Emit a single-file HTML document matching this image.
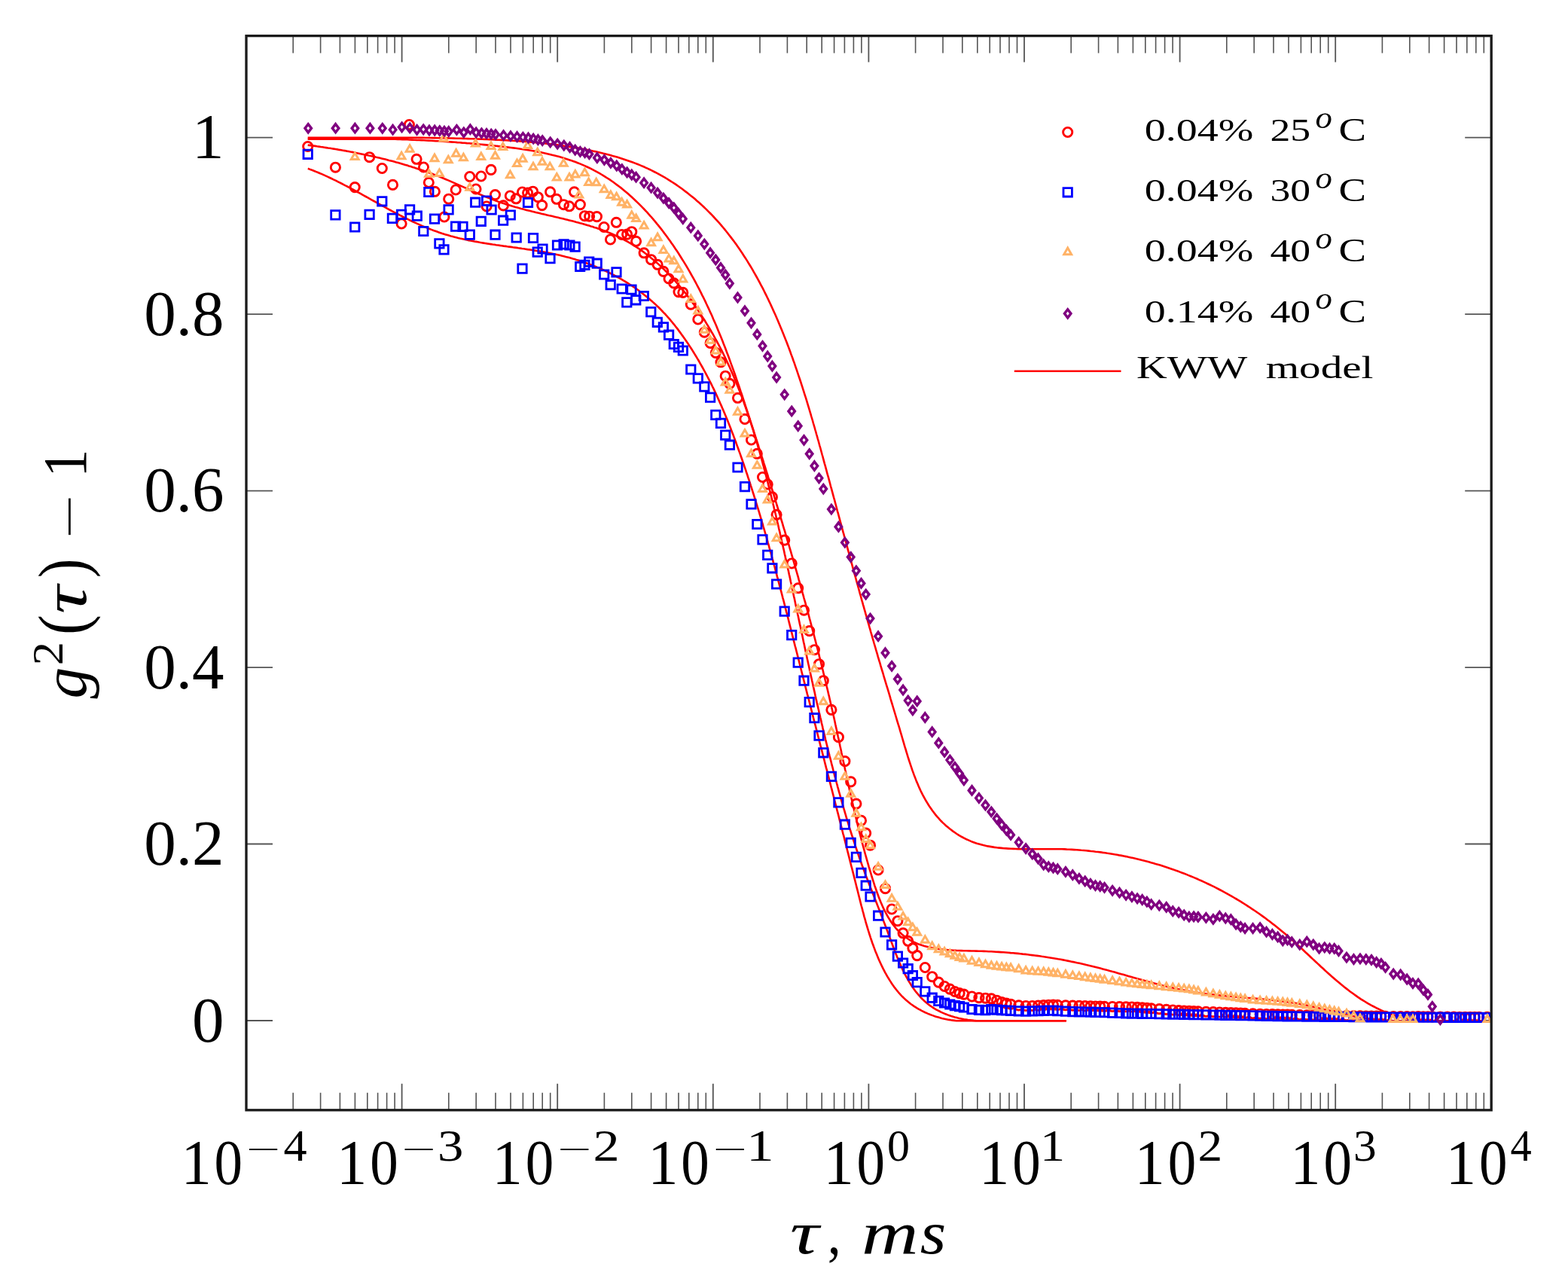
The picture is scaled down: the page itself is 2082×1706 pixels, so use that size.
<!DOCTYPE html><html><head><meta charset="utf-8"><style>html,body{margin:0;padding:0;background:#fff}svg{display:block;filter:blur(0.6px)}</style></head><body>
<svg width="2082" height="1706" viewBox="0 0 2082 1706">
<rect width="2082" height="1706" fill="#fff"/>
<path d="M327.0,1473.8v-35M327.0,47.6v35M533.6,1473.8v-35M533.6,47.6v35M740.2,1473.8v-35M740.2,47.6v35M946.8,1473.8v-35M946.8,47.6v35M1153.4,1473.8v-35M1153.4,47.6v35M1360.0,1473.8v-35M1360.0,47.6v35M1566.6,1473.8v-35M1566.6,47.6v35M1773.2,1473.8v-35M1773.2,47.6v35M1979.8,1473.8v-35M1979.8,47.6v35M327.0,1355.0h35M1980.2,1355.0h-35M327.0,1120.5h35M1980.2,1120.5h-35M327.0,886.1h35M1980.2,886.1h-35M327.0,651.6h35M1980.2,651.6h-35M327.0,417.2h35M1980.2,417.2h-35M327.0,182.7h35M1980.2,182.7h-35" stroke="#555" stroke-width="1.8" fill="none"/>
<path d="M389.2,1473.8v-23M389.2,47.6v23M425.6,1473.8v-23M425.6,47.6v23M451.4,1473.8v-23M451.4,47.6v23M471.4,1473.8v-23M471.4,47.6v23M487.8,1473.8v-23M487.8,47.6v23M501.6,1473.8v-23M501.6,47.6v23M513.6,1473.8v-23M513.6,47.6v23M524.1,1473.8v-23M524.1,47.6v23M595.8,1473.8v-23M595.8,47.6v23M632.2,1473.8v-23M632.2,47.6v23M658.0,1473.8v-23M658.0,47.6v23M678.0,1473.8v-23M678.0,47.6v23M694.4,1473.8v-23M694.4,47.6v23M708.2,1473.8v-23M708.2,47.6v23M720.2,1473.8v-23M720.2,47.6v23M730.7,1473.8v-23M730.7,47.6v23M802.4,1473.8v-23M802.4,47.6v23M838.8,1473.8v-23M838.8,47.6v23M864.6,1473.8v-23M864.6,47.6v23M884.6,1473.8v-23M884.6,47.6v23M901.0,1473.8v-23M901.0,47.6v23M914.8,1473.8v-23M914.8,47.6v23M926.8,1473.8v-23M926.8,47.6v23M937.3,1473.8v-23M937.3,47.6v23M1009.0,1473.8v-23M1009.0,47.6v23M1045.4,1473.8v-23M1045.4,47.6v23M1071.2,1473.8v-23M1071.2,47.6v23M1091.2,1473.8v-23M1091.2,47.6v23M1107.6,1473.8v-23M1107.6,47.6v23M1121.4,1473.8v-23M1121.4,47.6v23M1133.4,1473.8v-23M1133.4,47.6v23M1143.9,1473.8v-23M1143.9,47.6v23M1215.6,1473.8v-23M1215.6,47.6v23M1252.0,1473.8v-23M1252.0,47.6v23M1277.8,1473.8v-23M1277.8,47.6v23M1297.8,1473.8v-23M1297.8,47.6v23M1314.2,1473.8v-23M1314.2,47.6v23M1328.0,1473.8v-23M1328.0,47.6v23M1340.0,1473.8v-23M1340.0,47.6v23M1350.5,1473.8v-23M1350.5,47.6v23M1422.2,1473.8v-23M1422.2,47.6v23M1458.6,1473.8v-23M1458.6,47.6v23M1484.4,1473.8v-23M1484.4,47.6v23M1504.4,1473.8v-23M1504.4,47.6v23M1520.8,1473.8v-23M1520.8,47.6v23M1534.6,1473.8v-23M1534.6,47.6v23M1546.6,1473.8v-23M1546.6,47.6v23M1557.1,1473.8v-23M1557.1,47.6v23M1628.8,1473.8v-23M1628.8,47.6v23M1665.2,1473.8v-23M1665.2,47.6v23M1691.0,1473.8v-23M1691.0,47.6v23M1711.0,1473.8v-23M1711.0,47.6v23M1727.4,1473.8v-23M1727.4,47.6v23M1741.2,1473.8v-23M1741.2,47.6v23M1753.2,1473.8v-23M1753.2,47.6v23M1763.7,1473.8v-23M1763.7,47.6v23M1835.4,1473.8v-23M1835.4,47.6v23M1871.8,1473.8v-23M1871.8,47.6v23M1897.6,1473.8v-23M1897.6,47.6v23M1917.6,1473.8v-23M1917.6,47.6v23M1934.0,1473.8v-23M1934.0,47.6v23M1947.8,1473.8v-23M1947.8,47.6v23M1959.8,1473.8v-23M1959.8,47.6v23M1970.3,1473.8v-23M1970.3,47.6v23" stroke="#555" stroke-width="1.6" fill="none"/>
<clipPath id="cp"><rect x="327.0" y="47.6" width="1653.2" height="1426.2"/></clipPath>
<g clip-path="url(#cp)" fill="none">
<path d="M408.7,192.6 L411.1,192.9 L413.6,193.3 L416.1,193.6 L418.5,193.9 L421.0,194.3 L423.4,194.6 L425.9,195.0 L428.3,195.3 L430.8,195.7 L433.3,196.1 L435.7,196.5 L438.2,196.8 L440.7,197.2 L443.1,197.6 L445.6,198.0 L448.0,198.4 L450.5,198.9 L453.0,199.3 L455.4,199.7 L457.9,200.1 L460.4,200.6 L462.8,201.0 L465.3,201.5 L467.7,201.9 L470.2,202.4 L472.7,202.9 L475.1,203.4 L477.6,203.9 L480.0,204.4 L482.5,204.9 L484.9,205.4 L487.4,205.9 L489.8,206.5 L492.3,207.0 L494.7,207.5 L497.2,208.1 L499.6,208.7 L502.0,209.2 L504.5,209.8 L506.9,210.4 L509.3,211.0 L511.8,211.6 L514.2,212.2 L516.6,212.9 L519.0,213.5 L521.5,214.1 L523.9,214.8 L526.3,215.5 L528.7,216.1 L531.1,216.8 L533.5,217.5 L535.9,218.2 L538.3,218.9 L540.7,219.6 L543.1,220.4 L545.5,221.1 L547.9,221.9 L550.2,222.6 L552.6,223.4 L555.0,224.2 L557.4,225.0 L559.7,225.8 L562.1,226.6 L564.4,227.4 L566.8,228.2 L569.1,229.1 L571.4,229.9 L573.8,230.8 L576.1,231.7 L578.4,232.6 L580.8,233.5 L583.1,234.4 L585.4,235.3 L587.7,236.2 L590.0,237.2 L592.3,238.2 L594.5,239.1 L596.8,240.1 L599.1,241.1 L601.4,242.1 L603.6,243.1 L605.9,244.1 L608.2,245.1 L610.4,246.1 L612.7,247.1 L615.0,248.1 L617.2,249.1 L619.5,250.2 L621.8,251.2 L624.0,252.2 L626.3,253.2 L628.6,254.2 L630.8,255.2 L633.1,256.2 L635.4,257.2 L637.6,258.2 L639.9,259.1 L642.2,260.1 L644.5,261.1 L646.8,262.0 L649.1,262.9 L651.4,263.8 L653.7,264.7 L656.1,265.6 L658.4,266.5 L660.7,267.4 L663.1,268.2 L665.4,269.0 L667.8,269.8 L670.2,270.6 L672.5,271.4 L674.9,272.1 L677.3,272.8 L679.7,273.6 L682.1,274.3 L684.5,275.0 L687.0,275.6 L689.4,276.3 L691.8,277.0 L694.3,277.6 L696.7,278.3 L699.1,278.9 L701.6,279.5 L704.0,280.1 L706.5,280.7 L708.9,281.3 L711.4,281.9 L713.9,282.5 L716.3,283.1 L718.8,283.7 L721.2,284.2 L723.7,284.8 L726.2,285.4 L728.6,286.0 L731.1,286.5 L733.6,287.1 L736.0,287.7 L738.5,288.3 L741.0,288.8 L743.4,289.4 L745.9,290.0 L748.3,290.6 L750.8,291.2 L753.2,291.8 L755.7,292.4 L758.1,293.0 L760.5,293.6 L763.0,294.2 L765.4,294.9 L767.8,295.5 L770.2,296.2 L772.6,296.8 L775.0,297.5 L777.4,298.2 L779.8,298.9 L782.2,299.6 L784.6,300.4 L787.0,301.1 L789.3,301.9 L791.7,302.6 L794.0,303.4 L796.3,304.3 L798.7,305.1 L801.0,305.9 L803.3,306.8 L805.6,307.7 L807.8,308.6 L810.1,309.5 L812.4,310.5 L814.6,311.5 L816.9,312.5 L819.1,313.5 L821.3,314.5 L823.5,315.6 L825.7,316.7 L827.8,317.9 L830.0,319.0 L832.1,320.2 L834.2,321.4 L836.4,322.6 L838.5,323.9 L840.5,325.2 L842.6,326.5 L844.7,327.8 L846.7,329.2 L848.8,330.5 L850.8,332.0 L852.8,333.4 L854.8,334.8 L856.7,336.3 L858.7,337.8 L860.7,339.3 L862.6,340.8 L864.5,342.4 L866.4,343.9 L868.3,345.5 L870.2,347.2 L872.1,348.8 L873.9,350.4 L875.8,352.1 L877.6,353.8 L879.4,355.5 L881.2,357.2 L883.0,359.0 L884.8,360.7 L886.5,362.5 L888.3,364.3 L890.0,366.1 L891.7,367.9 L893.4,369.7 L895.1,371.6 L896.8,373.4 L898.5,375.3 L900.1,377.2 L901.8,379.1 L903.4,381.0 L905.0,383.0 L906.6,384.9 L908.2,386.9 L909.8,388.8 L911.3,390.8 L912.9,392.8 L914.4,394.8 L915.9,396.8 L917.5,398.8 L919.0,400.9 L920.4,402.9 L921.9,404.9 L923.4,407.0 L924.8,409.1 L926.2,411.1 L927.7,413.2 L929.1,415.3 L930.5,417.4 L931.8,419.5 L933.2,421.6 L934.6,423.7 L935.9,425.8 L937.2,428.0 L938.5,430.1 L939.8,432.2 L941.1,434.4 L942.4,436.5 L943.7,438.7 L944.9,440.8 L946.2,443.0 L947.4,445.2 L948.6,447.3 L949.8,449.5 L951.0,451.7 L952.2,453.9 L953.4,456.1 L954.6,458.3 L955.7,460.5 L956.8,462.7 L958.0,464.9 L959.1,467.1 L960.2,469.4 L961.3,471.6 L962.4,473.8 L963.5,476.1 L964.5,478.3 L965.6,480.6 L966.6,482.8 L967.7,485.1 L968.7,487.3 L969.7,489.6 L970.7,491.9 L971.7,494.2 L972.7,496.4 L973.7,498.7 L974.7,501.0 L975.6,503.3 L976.6,505.6 L977.5,507.9 L978.5,510.2 L979.4,512.5 L980.3,514.8 L981.2,517.1 L982.1,519.4 L983.0,521.8 L983.9,524.1 L984.8,526.4 L985.6,528.8 L986.5,531.1 L987.4,533.4 L988.2,535.8 L989.0,538.1 L989.9,540.5 L990.7,542.8 L991.5,545.2 L992.3,547.5 L993.1,549.9 L993.9,552.2 L994.7,554.6 L995.5,557.0 L996.3,559.3 L997.0,561.7 L997.8,564.1 L998.6,566.5 L999.3,568.8 L1000.1,571.2 L1000.8,573.6 L1001.5,576.0 L1002.3,578.4 L1003.0,580.8 L1003.7,583.2 L1004.4,585.6 L1005.1,588.0 L1005.8,590.4 L1006.5,592.8 L1007.2,595.2 L1007.9,597.6 L1008.6,600.0 L1009.3,602.4 L1009.9,604.8 L1010.6,607.2 L1011.3,609.6 L1011.9,612.0 L1012.6,614.4 L1013.2,616.8 L1013.9,619.2 L1014.5,621.7 L1015.2,624.1 L1015.8,626.5 L1016.4,628.9 L1017.1,631.3 L1017.7,633.8 L1018.3,636.2 L1018.9,638.6 L1019.6,641.0 L1020.2,643.4 L1020.8,645.9 L1021.4,648.3 L1022.0,650.7 L1022.6,653.1 L1023.2,655.6 L1023.8,658.0 L1024.4,660.4 L1025.0,662.8 L1025.6,665.3 L1026.2,667.7 L1026.8,670.1 L1027.4,672.5 L1027.9,675.0 L1028.5,677.4 L1029.1,679.8 L1029.7,682.3 L1030.3,684.7 L1030.8,687.1 L1031.4,689.5 L1032.0,692.0 L1032.5,694.4 L1033.1,696.8 L1033.7,699.2 L1034.2,701.7 L1034.8,704.1 L1035.4,706.5 L1035.9,709.0 L1036.5,711.4 L1037.0,713.8 L1037.6,716.3 L1038.1,718.7 L1038.7,721.1 L1039.2,723.6 L1039.8,726.0 L1040.3,728.4 L1040.9,730.8 L1041.4,733.3 L1041.9,735.7 L1042.5,738.1 L1043.0,740.6 L1043.6,743.0 L1044.1,745.4 L1044.6,747.9 L1045.2,750.3 L1045.7,752.7 L1046.2,755.2 L1046.8,757.6 L1047.3,760.0 L1047.8,762.5 L1048.4,764.9 L1048.9,767.3 L1049.4,769.8 L1049.9,772.2 L1050.5,774.6 L1051.0,777.1 L1051.5,779.5 L1052.0,782.0 L1052.6,784.4 L1053.1,786.8 L1053.6,789.3 L1054.1,791.7 L1054.7,794.1 L1055.2,796.6 L1055.7,799.0 L1056.2,801.4 L1056.7,803.9 L1057.3,806.3 L1057.8,808.7 L1058.3,811.2 L1058.8,813.6 L1059.3,816.0 L1059.9,818.5 L1060.4,820.9 L1060.9,823.4 L1061.4,825.8 L1061.9,828.2 L1062.5,830.7 L1063.0,833.1 L1063.5,835.5 L1064.0,838.0 L1064.5,840.4 L1065.1,842.8 L1065.6,845.3 L1066.1,847.7 L1066.6,850.2 L1067.1,852.6 L1067.7,855.0 L1068.2,857.5 L1068.7,859.9 L1069.2,862.3 L1069.7,864.8 L1070.3,867.2 L1070.8,869.6 L1071.3,872.1 L1071.8,874.5 L1072.4,877.0 L1072.9,879.4 L1073.4,881.8 L1074.0,884.3 L1074.5,886.7 L1075.0,889.1 L1075.5,891.6 L1076.1,894.0 L1076.6,896.4 L1077.1,898.9 L1077.7,901.3 L1078.2,903.8 L1078.8,906.2 L1079.3,908.6 L1079.8,911.1 L1080.4,913.5 L1080.9,915.9 L1081.5,918.4 L1082.0,920.8 L1082.5,923.2 L1083.1,925.7 L1083.6,928.1 L1084.2,930.5 L1084.7,933.0 L1085.3,935.4 L1085.9,937.9 L1086.4,940.3 L1087.0,942.7 L1087.5,945.2 L1088.1,947.6 L1088.7,950.0 L1089.2,952.5 L1089.8,954.9 L1090.4,957.3 L1090.9,959.8 L1091.5,962.2 L1092.1,964.6 L1092.6,967.1 L1093.2,969.5 L1093.8,971.9 L1094.4,974.4 L1095.0,976.8 L1095.6,979.2 L1096.1,981.7 L1096.7,984.1 L1097.3,986.5 L1097.9,989.0 L1098.5,991.4 L1099.1,993.8 L1099.7,996.2 L1100.3,998.7 L1100.9,1001.1 L1101.5,1003.5 L1102.2,1006.0 L1102.8,1008.4 L1103.4,1010.8 L1104.0,1013.3 L1104.6,1015.7 L1105.3,1018.1 L1105.9,1020.5 L1106.5,1023.0 L1107.2,1025.4 L1107.8,1027.8 L1108.4,1030.3 L1109.1,1032.7 L1109.7,1035.1 L1110.4,1037.5 L1111.0,1040.0 L1111.7,1042.4 L1112.3,1044.8 L1113.0,1047.2 L1113.6,1049.7 L1114.3,1052.1 L1115.0,1054.5 L1115.7,1056.9 L1116.3,1059.3 L1117.0,1061.7 L1117.7,1064.2 L1118.4,1066.6 L1119.1,1069.0 L1119.8,1071.4 L1120.5,1073.8 L1121.2,1076.2 L1121.9,1078.6 L1122.6,1081.0 L1123.3,1083.4 L1124.0,1085.8 L1124.7,1088.2 L1125.5,1090.6 L1126.2,1093.0 L1126.9,1095.4 L1127.6,1097.8 L1128.4,1100.1 L1129.1,1102.5 L1129.9,1104.9 L1130.6,1107.3 L1131.4,1109.6 L1132.2,1112.0 L1132.9,1114.4 L1133.7,1116.7 L1134.5,1119.1 L1135.2,1121.5 L1136.0,1123.8 L1136.8,1126.2 L1137.6,1128.5 L1138.4,1130.8 L1139.2,1133.2 L1140.0,1135.5 L1140.8,1137.8 L1141.6,1140.2 L1142.5,1142.5 L1143.3,1144.8 L1144.1,1147.1 L1144.9,1149.4 L1145.8,1151.8 L1146.6,1154.1 L1147.5,1156.4 L1148.3,1158.7 L1149.2,1160.9 L1150.0,1163.2 L1150.9,1165.5 L1151.8,1167.8 L1152.7,1170.1 L1153.5,1172.4 L1154.4,1174.7 L1155.3,1176.9 L1156.2,1179.2 L1157.1,1181.5 L1158.0,1183.8 L1158.9,1186.1 L1159.8,1188.4 L1160.7,1190.6 L1161.6,1192.9 L1162.5,1195.2 L1163.4,1197.5 L1164.3,1199.8 L1165.2,1202.1 L1166.1,1204.4 L1167.0,1206.7 L1167.9,1209.0 L1168.8,1211.4 L1169.7,1213.7 L1170.6,1216.0 L1171.5,1218.4 L1172.4,1220.7 L1173.3,1223.1 L1174.2,1225.4 L1175.1,1227.8 L1176.0,1230.1 L1176.9,1232.5 L1177.8,1234.9 L1178.7,1237.3 L1179.6,1239.7 L1180.5,1242.1 L1181.4,1244.6 L1182.3,1247.0 L1183.2,1249.4 L1184.1,1251.9 L1185.0,1254.3 L1185.9,1256.7 L1186.8,1259.1 L1187.7,1261.6 L1188.7,1264.0 L1189.6,1266.4 L1190.6,1268.8 L1191.5,1271.2 L1192.5,1273.6 L1193.5,1275.9 L1194.5,1278.3 L1195.6,1280.7 L1196.6,1283.0 L1197.7,1285.3 L1198.7,1287.6 L1199.8,1289.9 L1201.0,1292.1 L1202.1,1294.4 L1203.3,1296.6 L1204.5,1298.7 L1205.7,1300.9 L1206.9,1303.0 L1208.2,1305.1 L1209.5,1307.2 L1210.8,1309.2 L1212.2,1311.3 L1213.6,1313.2 L1215.0,1315.2 L1216.5,1317.1 L1218.0,1318.9 L1219.5,1320.7 L1221.1,1322.5 L1222.7,1324.3 L1224.3,1326.0 L1226.0,1327.6 L1227.7,1329.2 L1229.5,1330.8 L1231.3,1332.3 L1233.1,1333.7 L1235.0,1335.1 L1237.0,1336.5 L1239.0,1337.8 L1241.0,1339.1 L1243.0,1340.3 L1245.1,1341.4 L1247.3,1342.5 L1249.4,1343.6 L1251.6,1344.6 L1253.9,1345.6 L1256.1,1346.5 L1258.4,1347.4 L1260.7,1348.2 L1263.1,1349.0 L1265.5,1349.7 L1267.9,1350.4 L1270.3,1351.0 L1272.7,1351.7 L1275.2,1352.2 L1277.7,1352.7 L1280.2,1353.2 L1282.7,1353.6 L1285.2,1354.0 L1287.8,1354.3 L1290.3,1354.6 L1292.9,1354.9 L1295.5,1355.1 L1298.1,1355.2 L1300.7,1355.2 L1303.3,1355.2 L1305.9,1355.2 L1308.5,1355.2 L1311.1,1355.2 L1313.7,1355.2 L1316.4,1355.2 L1319.0,1355.2 L1321.6,1355.2 L1324.3,1355.2 L1326.9,1355.2 L1329.5,1355.2 L1332.1,1355.2 L1334.8,1355.2 L1337.4,1355.2 L1340.0,1355.2 L1342.6,1355.2 L1345.3,1355.2 L1347.9,1355.2 L1350.5,1355.2 L1353.1,1355.2 L1355.7,1355.2 L1358.2,1355.2 L1360.8,1355.2 L1363.4,1355.2 L1365.9,1355.2 L1368.5,1355.2 L1371.0,1355.2 L1373.5,1355.2 L1376.0,1355.2 L1378.5,1355.2 L1381.0,1355.2 L1383.5,1355.2 L1385.9,1355.2 L1388.3,1355.2 L1390.7,1355.2 L1393.1,1355.2 L1395.5,1355.2 L1397.9,1355.2 L1400.2,1355.2 L1402.5,1355.2 L1404.8,1355.2 L1407.1,1355.2 L1409.3,1355.2 L1411.6,1355.2 L1413.8,1355.2 L1415.9,1355.2" stroke="#ff0000" stroke-width="2.6"/>
<path d="M408.8,223.8 L411.0,224.6 L413.3,225.4 L415.5,226.3 L417.8,227.2 L420.0,228.1 L422.3,229.0 L424.5,230.0 L426.8,230.9 L429.0,231.9 L431.2,232.9 L433.4,233.9 L435.6,234.9 L437.9,236.0 L440.1,237.0 L442.3,238.1 L444.5,239.1 L446.7,240.2 L448.8,241.3 L451.0,242.4 L453.2,243.5 L455.4,244.6 L457.6,245.8 L459.8,246.9 L461.9,248.0 L464.1,249.2 L466.3,250.4 L468.4,251.5 L470.6,252.7 L472.8,253.9 L474.9,255.1 L477.1,256.2 L479.3,257.4 L481.4,258.6 L483.6,259.8 L485.7,261.0 L487.9,262.2 L490.1,263.4 L492.2,264.6 L494.4,265.8 L496.5,267.0 L498.7,268.2 L500.9,269.4 L503.0,270.6 L505.2,271.8 L507.3,273.0 L509.5,274.2 L511.7,275.4 L513.8,276.6 L516.0,277.8 L518.2,279.0 L520.3,280.1 L522.5,281.3 L524.7,282.4 L526.9,283.6 L529.0,284.7 L531.2,285.9 L533.4,287.0 L535.6,288.1 L537.8,289.2 L540.0,290.3 L542.2,291.4 L544.4,292.5 L546.6,293.5 L548.8,294.6 L551.0,295.6 L553.3,296.6 L555.5,297.6 L557.7,298.6 L559.9,299.6 L562.2,300.6 L564.4,301.5 L566.7,302.4 L568.9,303.3 L571.2,304.2 L573.5,305.1 L575.7,306.0 L578.0,306.8 L580.3,307.6 L582.6,308.4 L584.9,309.2 L587.2,310.0 L589.5,310.7 L591.8,311.4 L594.2,312.1 L596.5,312.8 L598.8,313.5 L601.2,314.1 L603.5,314.7 L605.9,315.3 L608.2,315.9 L610.6,316.5 L613.0,317.0 L615.4,317.5 L617.7,318.1 L620.1,318.6 L622.5,319.1 L624.9,319.5 L627.3,320.0 L629.7,320.5 L632.1,320.9 L634.5,321.3 L637.0,321.8 L639.4,322.2 L641.8,322.6 L644.2,323.0 L646.7,323.4 L649.1,323.7 L651.5,324.1 L654.0,324.5 L656.4,324.8 L658.8,325.2 L661.3,325.5 L663.7,325.9 L666.2,326.2 L668.6,326.6 L671.1,326.9 L673.5,327.3 L676.0,327.6 L678.4,327.9 L680.9,328.3 L683.3,328.6 L685.8,328.9 L688.2,329.3 L690.7,329.6 L693.1,330.0 L695.6,330.3 L698.0,330.7 L700.4,331.1 L702.9,331.4 L705.3,331.8 L707.8,332.2 L710.2,332.6 L712.6,333.0 L715.1,333.4 L717.5,333.8 L719.9,334.2 L722.4,334.6 L724.8,335.1 L727.2,335.5 L729.6,336.0 L732.0,336.5 L734.4,337.0 L736.9,337.5 L739.3,338.0 L741.7,338.5 L744.0,339.1 L746.4,339.7 L748.8,340.3 L751.2,340.9 L753.6,341.5 L755.9,342.1 L758.3,342.8 L760.7,343.5 L763.0,344.1 L765.4,344.9 L767.7,345.6 L770.0,346.3 L772.4,347.1 L774.7,347.9 L777.0,348.7 L779.3,349.5 L781.6,350.4 L783.9,351.2 L786.2,352.1 L788.4,353.0 L790.7,353.9 L793.0,354.9 L795.2,355.8 L797.4,356.8 L799.7,357.8 L801.9,358.8 L804.1,359.8 L806.3,360.9 L808.5,361.9 L810.7,363.0 L812.9,364.1 L815.0,365.2 L817.2,366.4 L819.3,367.5 L821.4,368.7 L823.6,369.9 L825.7,371.1 L827.8,372.4 L829.9,373.6 L831.9,374.9 L834.0,376.2 L836.0,377.5 L838.1,378.8 L840.1,380.2 L842.1,381.5 L844.1,382.9 L846.1,384.3 L848.1,385.8 L850.0,387.2 L852.0,388.7 L853.9,390.2 L855.8,391.7 L857.7,393.2 L859.6,394.7 L861.5,396.3 L863.3,397.9 L865.2,399.5 L867.0,401.1 L868.8,402.7 L870.6,404.4 L872.4,406.1 L874.2,407.8 L875.9,409.5 L877.6,411.2 L879.3,413.0 L881.0,414.8 L882.7,416.5 L884.4,418.4 L886.0,420.2 L887.7,422.0 L889.3,423.9 L890.9,425.8 L892.5,427.7 L894.0,429.6 L895.6,431.5 L897.1,433.5 L898.6,435.4 L900.2,437.4 L901.6,439.4 L903.1,441.4 L904.6,443.4 L906.0,445.4 L907.5,447.4 L908.9,449.4 L910.3,451.5 L911.7,453.5 L913.1,455.6 L914.5,457.6 L915.8,459.7 L917.2,461.8 L918.5,463.8 L919.8,465.9 L921.1,468.0 L922.4,470.1 L923.7,472.2 L925.0,474.3 L926.2,476.4 L927.5,478.5 L928.7,480.6 L929.9,482.8 L931.1,484.9 L932.3,487.0 L933.5,489.2 L934.7,491.3 L935.9,493.5 L937.0,495.6 L938.2,497.8 L939.3,500.0 L940.4,502.1 L941.6,504.3 L942.7,506.5 L943.8,508.7 L944.9,510.8 L945.9,513.0 L947.0,515.2 L948.1,517.4 L949.1,519.6 L950.2,521.8 L951.2,524.1 L952.2,526.3 L953.2,528.5 L954.2,530.7 L955.2,532.9 L956.2,535.2 L957.2,537.4 L958.2,539.6 L959.2,541.9 L960.1,544.1 L961.1,546.4 L962.0,548.6 L963.0,550.9 L963.9,553.1 L964.8,555.4 L965.8,557.6 L966.7,559.9 L967.6,562.2 L968.5,564.4 L969.4,566.7 L970.3,569.0 L971.1,571.3 L972.0,573.6 L972.9,575.8 L973.8,578.1 L974.6,580.4 L975.5,582.7 L976.3,585.0 L977.2,587.3 L978.0,589.6 L978.8,591.9 L979.7,594.2 L980.5,596.5 L981.3,598.8 L982.2,601.1 L983.0,603.4 L983.8,605.7 L984.6,608.0 L985.4,610.3 L986.2,612.6 L987.0,614.9 L987.8,617.2 L988.6,619.6 L989.4,621.9 L990.2,624.2 L990.9,626.5 L991.7,628.8 L992.5,631.2 L993.2,633.5 L994.0,635.8 L994.8,638.1 L995.5,640.5 L996.3,642.8 L997.0,645.1 L997.8,647.4 L998.5,649.8 L999.3,652.1 L1000.0,654.5 L1000.8,656.8 L1001.5,659.1 L1002.2,661.5 L1003.0,663.8 L1003.7,666.1 L1004.4,668.5 L1005.1,670.8 L1005.8,673.2 L1006.6,675.5 L1007.3,677.9 L1008.0,680.2 L1008.7,682.6 L1009.4,684.9 L1010.1,687.3 L1010.8,689.6 L1011.5,692.0 L1012.2,694.3 L1012.9,696.7 L1013.5,699.0 L1014.2,701.4 L1014.9,703.7 L1015.6,706.1 L1016.3,708.5 L1016.9,710.8 L1017.6,713.2 L1018.3,715.5 L1019.0,717.9 L1019.6,720.3 L1020.3,722.6 L1021.0,725.0 L1021.6,727.4 L1022.3,729.7 L1022.9,732.1 L1023.6,734.4 L1024.2,736.8 L1024.9,739.2 L1025.5,741.6 L1026.2,743.9 L1026.8,746.3 L1027.5,748.7 L1028.1,751.0 L1028.8,753.4 L1029.4,755.8 L1030.0,758.1 L1030.7,760.5 L1031.3,762.9 L1031.9,765.3 L1032.6,767.6 L1033.2,770.0 L1033.8,772.4 L1034.5,774.8 L1035.1,777.1 L1035.7,779.5 L1036.3,781.9 L1037.0,784.3 L1037.6,786.6 L1038.2,789.0 L1038.8,791.4 L1039.4,793.8 L1040.1,796.2 L1040.7,798.5 L1041.3,800.9 L1041.9,803.3 L1042.5,805.7 L1043.1,808.0 L1043.7,810.4 L1044.3,812.8 L1045.0,815.2 L1045.6,817.6 L1046.2,819.9 L1046.8,822.3 L1047.4,824.7 L1048.0,827.1 L1048.6,829.5 L1049.2,831.8 L1049.8,834.2 L1050.4,836.6 L1051.0,839.0 L1051.6,841.4 L1052.2,843.7 L1052.8,846.1 L1053.4,848.5 L1054.0,850.9 L1054.6,853.3 L1055.2,855.6 L1055.8,858.0 L1056.5,860.4 L1057.1,862.8 L1057.7,865.2 L1058.3,867.5 L1058.9,869.9 L1059.5,872.3 L1060.1,874.7 L1060.7,877.0 L1061.3,879.4 L1061.9,881.8 L1062.5,884.2 L1063.1,886.5 L1063.7,888.9 L1064.3,891.3 L1064.9,893.7 L1065.5,896.0 L1066.1,898.4 L1066.7,900.8 L1067.3,903.2 L1067.9,905.5 L1068.5,907.9 L1069.1,910.3 L1069.7,912.7 L1070.3,915.0 L1070.9,917.4 L1071.5,919.8 L1072.1,922.1 L1072.8,924.5 L1073.4,926.9 L1074.0,929.3 L1074.6,931.6 L1075.2,934.0 L1075.8,936.4 L1076.4,938.7 L1077.0,941.1 L1077.6,943.5 L1078.2,945.8 L1078.8,948.2 L1079.4,950.6 L1080.0,953.0 L1080.6,955.3 L1081.2,957.7 L1081.8,960.1 L1082.5,962.4 L1083.1,964.8 L1083.7,967.2 L1084.3,969.5 L1084.9,971.9 L1085.5,974.3 L1086.1,976.7 L1086.7,979.0 L1087.3,981.4 L1087.9,983.8 L1088.5,986.1 L1089.1,988.5 L1089.7,990.9 L1090.4,993.2 L1091.0,995.6 L1091.6,998.0 L1092.2,1000.3 L1092.8,1002.7 L1093.4,1005.1 L1094.0,1007.4 L1094.6,1009.8 L1095.2,1012.2 L1095.8,1014.6 L1096.4,1016.9 L1097.0,1019.3 L1097.7,1021.7 L1098.3,1024.0 L1098.9,1026.4 L1099.5,1028.8 L1100.1,1031.1 L1100.7,1033.5 L1101.3,1035.9 L1101.9,1038.2 L1102.5,1040.6 L1103.1,1043.0 L1103.7,1045.4 L1104.4,1047.7 L1105.0,1050.1 L1105.6,1052.5 L1106.2,1054.8 L1106.8,1057.2 L1107.4,1059.6 L1108.0,1062.0 L1108.6,1064.3 L1109.2,1066.7 L1109.8,1069.1 L1110.4,1071.4 L1111.0,1073.8 L1111.6,1076.2 L1112.3,1078.6 L1112.9,1080.9 L1113.5,1083.3 L1114.1,1085.7 L1114.7,1088.1 L1115.3,1090.4 L1115.9,1092.8 L1116.5,1095.2 L1117.1,1097.6 L1117.7,1099.9 L1118.3,1102.3 L1118.9,1104.7 L1119.5,1107.1 L1120.2,1109.4 L1120.8,1111.8 L1121.4,1114.2 L1122.0,1116.6 L1122.6,1119.0 L1123.2,1121.3 L1123.8,1123.7 L1124.4,1126.1 L1125.0,1128.5 L1125.6,1130.9 L1126.2,1133.2 L1126.8,1135.6 L1127.4,1138.0 L1128.0,1140.4 L1128.6,1142.8 L1129.2,1145.1 L1129.8,1147.5 L1130.4,1149.9 L1131.1,1152.3 L1131.7,1154.7 L1132.3,1157.1 L1132.9,1159.4 L1133.5,1161.8 L1134.1,1164.2 L1134.7,1166.6 L1135.3,1169.0 L1135.9,1171.4 L1136.5,1173.8 L1137.1,1176.2 L1137.7,1178.6 L1138.3,1180.9 L1138.9,1183.3 L1139.5,1185.7 L1140.1,1188.1 L1140.7,1190.5 L1141.3,1192.9 L1141.9,1195.3 L1142.5,1197.7 L1143.1,1200.1 L1143.7,1202.5 L1144.4,1204.9 L1145.0,1207.2 L1145.6,1209.6 L1146.3,1212.0 L1146.9,1214.4 L1147.5,1216.8 L1148.2,1219.2 L1148.9,1221.5 L1149.5,1223.9 L1150.2,1226.3 L1150.9,1228.7 L1151.6,1231.0 L1152.3,1233.4 L1153.0,1235.7 L1153.8,1238.1 L1154.5,1240.5 L1155.3,1242.8 L1156.0,1245.1 L1156.8,1247.5 L1157.6,1249.8 L1158.4,1252.2 L1159.3,1254.5 L1160.1,1256.8 L1161.0,1259.1 L1161.8,1261.4 L1162.7,1263.7 L1163.7,1266.0 L1164.6,1268.3 L1165.5,1270.6 L1166.5,1272.9 L1167.5,1275.2 L1168.5,1277.4 L1169.6,1279.7 L1170.6,1281.9 L1171.7,1284.1 L1172.8,1286.4 L1174.0,1288.6 L1175.1,1290.8 L1176.3,1292.9 L1177.5,1295.1 L1178.7,1297.2 L1180.0,1299.3 L1181.3,1301.4 L1182.6,1303.4 L1183.9,1305.5 L1185.3,1307.5 L1186.7,1309.4 L1188.1,1311.4 L1189.6,1313.3 L1191.1,1315.2 L1192.6,1317.0 L1194.2,1318.8 L1195.8,1320.6 L1197.4,1322.3 L1199.1,1324.0 L1200.8,1325.6 L1202.5,1327.2 L1204.3,1328.8 L1206.1,1330.3 L1207.9,1331.7 L1209.8,1333.2 L1211.7,1334.5 L1213.6,1335.9 L1215.6,1337.1 L1217.6,1338.4 L1219.6,1339.6 L1221.7,1340.7 L1223.8,1341.9 L1225.9,1342.9 L1228.0,1344.0 L1230.2,1344.9 L1232.3,1345.9 L1234.6,1346.8 L1236.8,1347.6 L1239.0,1348.4 L1241.3,1349.2 L1243.6,1349.9 L1245.9,1350.6 L1248.3,1351.3 L1250.6,1351.9 L1253.0,1352.4 L1255.4,1352.9 L1257.8,1353.4 L1260.2,1353.9 L1262.6,1354.3 L1265.1,1354.6 L1267.5,1354.9 L1270.0,1355.2 L1272.5,1355.2 L1275.0,1355.2 L1277.4,1355.2 L1280.0,1355.2 L1282.5,1355.2 L1285.0,1355.2 L1287.5,1355.2 L1290.1,1355.2 L1292.6,1355.2 L1295.2,1355.2 L1297.7,1355.2 L1300.3,1355.2 L1302.9,1355.2 L1305.4,1355.2 L1308.0,1355.2 L1310.6,1355.2 L1313.2,1355.2 L1315.7,1355.2 L1318.3,1355.2 L1320.9,1355.2 L1323.5,1355.2 L1326.1,1355.2 L1328.7,1355.2 L1331.2,1355.2 L1333.8,1355.2 L1336.4,1355.2 L1338.9,1355.2 L1341.5,1355.2 L1344.1,1355.2 L1346.6,1355.2 L1349.2,1355.2 L1351.7,1355.2 L1354.3,1355.2 L1356.8,1355.2 L1359.3,1355.2 L1361.8,1355.2 L1364.3,1355.2 L1366.8,1355.2 L1369.3,1355.2 L1371.8,1355.2 L1374.2,1355.2 L1376.7,1355.2 L1379.1,1355.2 L1381.5,1355.2 L1383.9,1355.2 L1386.3,1355.2 L1388.7,1355.2 L1391.1,1355.2 L1393.4,1355.2 L1395.8,1355.2 L1398.1,1355.2 L1400.4,1355.2 L1402.6,1355.2 L1404.9,1355.2 L1407.1,1355.2 L1409.4,1355.2 L1411.6,1355.2 L1413.7,1355.2 L1415.9,1355.2" stroke="#ff0000" stroke-width="2.6"/>
<path d="M408.6,184.7 L411.9,184.7 L415.2,184.7 L418.5,184.7 L421.8,184.7 L425.1,184.7 L428.4,184.7 L431.7,184.7 L435.0,184.7 L438.2,184.7 L441.5,184.7 L444.8,184.7 L448.0,184.7 L451.3,184.7 L454.5,184.7 L457.7,184.7 L461.0,184.7 L464.2,184.7 L467.4,184.7 L470.7,184.7 L473.9,184.7 L477.1,184.7 L480.3,184.7 L483.5,184.7 L486.7,184.7 L489.9,184.7 L493.1,184.7 L496.3,184.7 L499.4,184.7 L502.6,184.7 L505.8,184.7 L509.0,184.7 L512.2,184.7 L515.3,184.7 L518.5,184.7 L521.7,184.7 L524.8,184.8 L528.0,184.9 L531.2,185.0 L534.3,185.1 L537.5,185.2 L540.7,185.3 L543.8,185.5 L547.0,185.6 L550.2,185.7 L553.3,185.9 L556.5,186.0 L559.6,186.1 L562.8,186.3 L566.0,186.5 L569.1,186.6 L572.3,186.8 L575.5,187.0 L578.6,187.2 L581.8,187.3 L585.0,187.5 L588.1,187.7 L591.3,188.0 L594.5,188.2 L597.7,188.4 L600.8,188.6 L604.0,188.8 L607.2,189.1 L610.4,189.3 L613.6,189.6 L616.8,189.8 L620.0,190.1 L623.2,190.3 L626.4,190.6 L629.6,190.9 L632.8,191.2 L636.0,191.5 L639.3,191.8 L642.5,192.1 L645.7,192.4 L649.0,192.7 L652.2,193.0 L655.5,193.4 L658.7,193.7 L662.0,194.1 L665.2,194.4 L668.5,194.8 L671.8,195.2 L675.0,195.6 L678.3,196.0 L681.6,196.4 L684.8,196.8 L688.1,197.2 L691.4,197.7 L694.6,198.2 L697.9,198.7 L701.1,199.2 L704.4,199.7 L707.6,200.3 L710.8,200.9 L714.1,201.5 L717.3,202.1 L720.5,202.8 L723.7,203.5 L726.9,204.2 L730.1,204.9 L733.2,205.7 L736.4,206.4 L739.5,207.3 L742.6,208.1 L745.8,209.0 L748.8,209.9 L751.9,210.9 L755.0,211.9 L758.0,212.9 L761.0,214.0 L764.1,215.1 L767.0,216.2 L770.0,217.4 L772.9,218.6 L775.9,219.9 L778.8,221.2 L781.6,222.5 L784.5,223.9 L787.3,225.3 L790.1,226.8 L792.9,228.3 L795.7,229.9 L798.4,231.5 L801.1,233.1 L803.8,234.8 L806.4,236.5 L809.1,238.2 L811.7,240.0 L814.3,241.8 L816.9,243.7 L819.4,245.6 L822.0,247.5 L824.5,249.4 L827.0,251.4 L829.4,253.4 L831.9,255.5 L834.3,257.6 L836.7,259.7 L839.0,261.8 L841.4,264.0 L843.7,266.2 L846.0,268.4 L848.3,270.6 L850.6,272.9 L852.8,275.2 L855.1,277.5 L857.3,279.9 L859.5,282.2 L861.6,284.6 L863.8,287.0 L865.9,289.4 L868.0,291.9 L870.1,294.4 L872.1,296.9 L874.2,299.4 L876.2,301.9 L878.2,304.4 L880.2,307.0 L882.1,309.6 L884.1,312.2 L886.0,314.8 L887.9,317.4 L889.8,320.0 L891.6,322.7 L893.5,325.3 L895.3,328.0 L897.1,330.7 L898.9,333.3 L900.7,336.0 L902.4,338.7 L904.1,341.5 L905.8,344.2 L907.5,346.9 L909.2,349.7 L910.9,352.4 L912.5,355.2 L914.1,357.9 L915.7,360.7 L917.3,363.5 L918.9,366.3 L920.5,369.1 L922.0,371.9 L923.5,374.7 L925.0,377.5 L926.5,380.4 L928.0,383.2 L929.5,386.1 L930.9,388.9 L932.3,391.8 L933.8,394.6 L935.2,397.5 L936.6,400.4 L937.9,403.3 L939.3,406.2 L940.7,409.1 L942.0,412.0 L943.3,414.9 L944.7,417.8 L946.0,420.8 L947.2,423.7 L948.5,426.6 L949.8,429.6 L951.1,432.5 L952.3,435.5 L953.5,438.4 L954.8,441.4 L956.0,444.4 L957.2,447.3 L958.4,450.3 L959.6,453.3 L960.7,456.3 L961.9,459.3 L963.1,462.3 L964.2,465.3 L965.3,468.3 L966.5,471.3 L967.6,474.3 L968.7,477.3 L969.8,480.4 L970.9,483.4 L972.0,486.4 L973.1,489.4 L974.2,492.5 L975.3,495.5 L976.3,498.5 L977.4,501.6 L978.4,504.6 L979.5,507.7 L980.5,510.7 L981.6,513.8 L982.6,516.8 L983.6,519.9 L984.7,523.0 L985.7,526.0 L986.7,529.1 L987.7,532.1 L988.7,535.2 L989.7,538.3 L990.7,541.3 L991.7,544.4 L992.7,547.5 L993.7,550.6 L994.7,553.6 L995.7,556.7 L996.7,559.8 L997.7,562.8 L998.7,565.9 L999.7,569.0 L1000.7,572.1 L1001.6,575.1 L1002.6,578.2 L1003.6,581.3 L1004.6,584.4 L1005.6,587.4 L1006.6,590.5 L1007.5,593.6 L1008.5,596.7 L1009.5,599.7 L1010.5,602.8 L1011.4,605.9 L1012.4,609.0 L1013.4,612.0 L1014.3,615.1 L1015.3,618.2 L1016.3,621.3 L1017.2,624.3 L1018.2,627.4 L1019.2,630.5 L1020.1,633.6 L1021.1,636.7 L1022.0,639.7 L1023.0,642.8 L1024.0,645.9 L1024.9,649.0 L1025.9,652.0 L1026.8,655.1 L1027.8,658.2 L1028.7,661.3 L1029.6,664.4 L1030.6,667.4 L1031.5,670.5 L1032.5,673.6 L1033.4,676.7 L1034.3,679.8 L1035.3,682.9 L1036.2,685.9 L1037.1,689.0 L1038.1,692.1 L1039.0,695.2 L1039.9,698.3 L1040.8,701.4 L1041.8,704.4 L1042.7,707.5 L1043.6,710.6 L1044.5,713.7 L1045.4,716.8 L1046.3,719.9 L1047.3,722.9 L1048.2,726.0 L1049.1,729.1 L1050.0,732.2 L1050.9,735.3 L1051.8,738.4 L1052.7,741.5 L1053.6,744.6 L1054.5,747.7 L1055.3,750.7 L1056.2,753.8 L1057.1,756.9 L1058.0,760.0 L1058.9,763.1 L1059.8,766.2 L1060.6,769.3 L1061.5,772.4 L1062.4,775.5 L1063.2,778.6 L1064.1,781.7 L1065.0,784.8 L1065.8,787.9 L1066.7,790.9 L1067.5,794.0 L1068.4,797.1 L1069.3,800.2 L1070.1,803.3 L1070.9,806.4 L1071.8,809.5 L1072.6,812.6 L1073.5,815.7 L1074.3,818.8 L1075.1,821.9 L1076.0,825.0 L1076.8,828.1 L1077.6,831.2 L1078.4,834.3 L1079.2,837.4 L1080.1,840.5 L1080.9,843.6 L1081.7,846.7 L1082.5,849.9 L1083.3,853.0 L1084.1,856.1 L1084.9,859.2 L1085.7,862.3 L1086.5,865.4 L1087.3,868.5 L1088.0,871.6 L1088.8,874.7 L1089.6,877.8 L1090.4,880.9 L1091.1,884.0 L1091.9,887.2 L1092.7,890.3 L1093.4,893.4 L1094.2,896.5 L1095.0,899.6 L1095.7,902.7 L1096.5,905.8 L1097.2,909.0 L1097.9,912.1 L1098.7,915.2 L1099.4,918.3 L1100.1,921.4 L1100.9,924.5 L1101.6,927.7 L1102.3,930.8 L1103.0,933.9 L1103.8,937.0 L1104.5,940.2 L1105.2,943.3 L1105.9,946.4 L1106.6,949.5 L1107.3,952.6 L1108.0,955.8 L1108.7,958.9 L1109.3,962.0 L1110.0,965.2 L1110.7,968.3 L1111.4,971.4 L1112.1,974.5 L1112.7,977.7 L1113.4,980.8 L1114.1,983.9 L1114.8,987.1 L1115.4,990.2 L1116.1,993.3 L1116.8,996.5 L1117.4,999.6 L1118.1,1002.7 L1118.8,1005.9 L1119.4,1009.0 L1120.1,1012.2 L1120.8,1015.3 L1121.5,1018.4 L1122.1,1021.6 L1122.8,1024.7 L1123.5,1027.9 L1124.2,1031.0 L1124.9,1034.1 L1125.5,1037.3 L1126.2,1040.4 L1126.9,1043.6 L1127.6,1046.7 L1128.3,1049.9 L1129.0,1053.0 L1129.7,1056.2 L1130.4,1059.3 L1131.1,1062.4 L1131.9,1065.6 L1132.6,1068.7 L1133.3,1071.9 L1134.0,1075.0 L1134.8,1078.2 L1135.5,1081.3 L1136.3,1084.5 L1137.0,1087.6 L1137.8,1090.8 L1138.5,1094.0 L1139.3,1097.1 L1140.1,1100.3 L1140.9,1103.4 L1141.7,1106.6 L1142.5,1109.7 L1143.3,1112.9 L1144.1,1116.0 L1144.9,1119.2 L1145.8,1122.4 L1146.6,1125.5 L1147.5,1128.7 L1148.3,1131.8 L1149.2,1135.0 L1150.1,1138.2 L1151.0,1141.3 L1151.9,1144.5 L1152.8,1147.6 L1153.7,1150.8 L1154.7,1154.0 L1155.6,1157.1 L1156.6,1160.3 L1157.5,1163.5 L1158.5,1166.6 L1159.5,1169.8 L1160.5,1172.9 L1161.5,1176.1 L1162.6,1179.2 L1163.7,1182.4 L1164.8,1185.5 L1165.9,1188.5 L1167.0,1191.6 L1168.2,1194.6 L1169.4,1197.6 L1170.7,1200.6 L1172.0,1203.5 L1173.3,1206.4 L1174.7,1209.2 L1176.2,1212.0 L1177.7,1214.8 L1179.2,1217.5 L1180.8,1220.1 L1182.4,1222.7 L1184.1,1225.2 L1185.9,1227.6 L1187.7,1230.0 L1189.6,1232.3 L1191.6,1234.5 L1193.6,1236.6 L1195.8,1238.7 L1197.9,1240.7 L1200.2,1242.6 L1202.6,1244.3 L1205.0,1246.0 L1207.5,1247.6 L1210.1,1249.1 L1212.8,1250.5 L1215.6,1251.8 L1218.4,1253.0 L1221.4,1254.1 L1224.4,1255.1 L1227.4,1256.0 L1230.5,1256.8 L1233.7,1257.6 L1236.9,1258.2 L1240.1,1258.8 L1243.3,1259.4 L1246.6,1259.9 L1249.9,1260.3 L1253.2,1260.7 L1256.5,1261.0 L1259.8,1261.3 L1263.1,1261.5 L1266.4,1261.7 L1269.8,1261.9 L1273.1,1262.0 L1276.4,1262.1 L1279.8,1262.2 L1283.1,1262.3 L1286.4,1262.4 L1289.8,1262.5 L1293.1,1262.5 L1296.4,1262.6 L1299.7,1262.7 L1303.0,1262.8 L1306.3,1262.9 L1309.6,1263.0 L1312.9,1263.2 L1316.1,1263.3 L1319.4,1263.5 L1322.7,1263.7 L1325.9,1263.9 L1329.2,1264.1 L1332.4,1264.3 L1335.6,1264.5 L1338.8,1264.8 L1342.0,1265.1 L1345.3,1265.3 L1348.5,1265.6 L1351.7,1265.9 L1354.8,1266.2 L1358.0,1266.6 L1361.2,1266.9 L1364.4,1267.3 L1367.5,1267.7 L1370.7,1268.1 L1373.9,1268.5 L1377.0,1268.9 L1380.2,1269.3 L1383.3,1269.8 L1386.5,1270.2 L1389.6,1270.7 L1392.7,1271.2 L1395.9,1271.7 L1399.0,1272.2 L1402.1,1272.7 L1405.2,1273.3 L1408.4,1273.8 L1411.5,1274.4 L1414.6,1275.0 L1417.7,1275.6 L1420.8,1276.2 L1423.9,1276.9 L1427.0,1277.5 L1430.1,1278.2 L1433.2,1278.8 L1436.3,1279.5 L1439.4,1280.2 L1442.5,1281.0 L1445.6,1281.7 L1448.7,1282.4 L1451.8,1283.2 L1454.9,1284.0 L1458.0,1284.8 L1461.1,1285.6 L1464.2,1286.4 L1467.3,1287.2 L1470.4,1288.1 L1473.5,1288.9 L1476.6,1289.8 L1479.7,1290.6 L1482.8,1291.5 L1485.9,1292.4 L1489.0,1293.3 L1492.1,1294.1 L1495.2,1295.0 L1498.3,1295.9 L1501.4,1296.8 L1504.5,1297.7 L1507.6,1298.6 L1510.8,1299.4 L1513.9,1300.3 L1517.0,1301.2 L1520.1,1302.0 L1523.2,1302.9 L1526.3,1303.8 L1529.4,1304.6 L1532.6,1305.4 L1535.7,1306.3 L1538.8,1307.1 L1541.9,1307.9 L1545.1,1308.7 L1548.2,1309.4 L1551.4,1310.2 L1554.5,1310.9 L1557.6,1311.6 L1560.8,1312.3 L1563.9,1313.0 L1567.1,1313.7 L1570.2,1314.3 L1573.4,1314.9 L1576.5,1315.5 L1579.7,1316.1 L1582.9,1316.7 L1586.0,1317.2 L1589.2,1317.7 L1592.4,1318.2 L1595.6,1318.6 L1598.8,1319.1 L1601.9,1319.5 L1605.1,1319.9 L1608.3,1320.2 L1611.5,1320.6 L1614.7,1321.0 L1617.9,1321.3 L1621.1,1321.6 L1624.3,1322.0 L1627.5,1322.3 L1630.7,1322.6 L1633.9,1322.8 L1637.1,1323.1 L1640.3,1323.4 L1643.5,1323.7 L1646.7,1324.0 L1649.9,1324.2 L1653.1,1324.5 L1656.3,1324.8 L1659.5,1325.0 L1662.7,1325.3 L1665.9,1325.6 L1669.1,1325.9 L1672.3,1326.2 L1675.5,1326.4 L1678.7,1326.7 L1681.9,1327.1 L1685.1,1327.4 L1688.3,1327.7 L1691.5,1328.1 L1694.7,1328.4 L1697.9,1328.8 L1701.1,1329.2 L1704.3,1329.6 L1707.5,1330.0 L1710.6,1330.5 L1713.8,1330.9 L1717.0,1331.4 L1720.2,1331.9 L1723.3,1332.4 L1726.5,1333.0 L1729.6,1333.6 L1732.8,1334.2 L1735.9,1334.8 L1739.1,1335.5 L1742.2,1336.2 L1745.4,1336.9 L1748.5,1337.6 L1751.7,1338.4 L1754.8,1339.1 L1757.9,1339.9 L1761.1,1340.6 L1764.2,1341.4 L1767.3,1342.2 L1770.5,1342.9 L1773.6,1343.7 L1776.7,1344.5 L1779.8,1345.2 L1783.0,1346.0 L1786.1,1346.7 L1789.2,1347.4 L1792.4,1348.1 L1795.5,1348.7 L1798.7,1349.4 L1801.8,1350.0 L1805.0,1350.6 L1808.1,1351.1 L1811.3,1351.6 L1814.5,1352.1 L1817.6,1352.6 L1820.8,1353.0 L1824.0,1353.4 L1827.1,1353.7 L1830.3,1354.0 L1833.5,1354.3 L1836.7,1354.6 L1839.9,1354.9 L1843.1,1355.1 L1846.3,1355.2 L1849.5,1355.2 L1852.7,1355.2 L1855.9,1355.2 L1859.1,1355.2 L1862.3,1355.2 L1865.5,1355.2 L1868.7,1355.2 L1871.9,1355.2 L1875.2,1355.2 L1878.4,1355.2 L1881.6,1355.2 L1884.8,1355.2 L1888.1,1355.2 L1891.3,1355.2 L1894.5,1355.2 L1897.7,1355.2 L1901.0,1355.2 L1904.2,1355.2 L1907.4,1355.2 L1910.6,1355.2 L1913.9,1355.2 L1917.1,1355.2 L1920.3,1355.2 L1923.6,1355.2 L1926.8,1355.2 L1930.0,1355.2" stroke="#ff0000" stroke-width="2.6"/>
<path d="M408.7,182.7 L411.8,182.7 L415.0,182.7 L418.1,182.7 L421.2,182.7 L424.4,182.7 L427.5,182.7 L430.6,182.7 L433.8,182.7 L436.9,182.7 L440.0,182.7 L443.2,182.7 L446.3,182.7 L449.4,182.7 L452.5,182.7 L455.7,182.7 L458.8,182.7 L461.9,182.7 L465.1,182.7 L468.2,182.7 L471.3,182.7 L474.4,182.7 L477.6,182.7 L480.7,182.7 L483.8,182.7 L487.0,182.7 L490.1,182.7 L493.2,182.7 L496.3,182.7 L499.5,182.7 L502.6,182.7 L505.7,182.7 L508.8,182.7 L512.0,182.7 L515.1,182.7 L518.2,182.7 L521.3,182.7 L524.5,182.7 L527.6,182.7 L530.7,182.7 L533.8,182.7 L536.9,182.7 L540.1,182.8 L543.2,182.8 L546.3,182.8 L549.4,182.8 L552.6,182.8 L555.7,182.9 L558.8,182.9 L561.9,182.9 L565.0,183.0 L568.2,183.0 L571.3,183.0 L574.4,183.1 L577.5,183.1 L580.7,183.2 L583.8,183.2 L586.9,183.3 L590.0,183.3 L593.2,183.4 L596.3,183.5 L599.4,183.5 L602.5,183.6 L605.6,183.7 L608.8,183.8 L611.9,183.8 L615.0,183.9 L618.1,184.0 L621.3,184.1 L624.4,184.2 L627.5,184.3 L630.6,184.4 L633.8,184.5 L636.9,184.6 L640.0,184.8 L643.1,184.9 L646.3,185.0 L649.4,185.1 L652.5,185.3 L655.6,185.4 L658.8,185.6 L661.9,185.7 L665.0,185.9 L668.1,186.1 L671.3,186.2 L674.4,186.4 L677.5,186.6 L680.6,186.8 L683.8,187.0 L686.9,187.2 L690.0,187.4 L693.1,187.7 L696.3,187.9 L699.4,188.1 L702.5,188.4 L705.6,188.7 L708.7,189.0 L711.8,189.2 L715.0,189.5 L718.1,189.9 L721.2,190.2 L724.3,190.5 L727.4,190.9 L730.5,191.2 L733.6,191.6 L736.7,192.0 L739.8,192.4 L742.9,192.8 L746.0,193.2 L749.1,193.7 L752.2,194.1 L755.3,194.6 L758.4,195.1 L761.5,195.6 L764.6,196.1 L767.6,196.6 L770.7,197.2 L773.8,197.8 L776.9,198.3 L779.9,198.9 L783.0,199.6 L786.1,200.2 L789.1,200.9 L792.2,201.5 L795.2,202.2 L798.3,202.9 L801.3,203.7 L804.4,204.4 L807.4,205.2 L810.4,206.0 L813.4,206.9 L816.4,207.7 L819.4,208.6 L822.4,209.5 L825.4,210.4 L828.4,211.4 L831.3,212.4 L834.3,213.4 L837.2,214.4 L840.2,215.5 L843.1,216.6 L846.0,217.7 L848.9,218.9 L851.7,220.1 L854.6,221.3 L857.4,222.6 L860.3,223.9 L863.1,225.2 L865.9,226.6 L868.6,228.0 L871.4,229.4 L874.2,230.9 L876.9,232.4 L879.6,233.9 L882.3,235.4 L885.0,237.0 L887.6,238.7 L890.3,240.3 L892.9,242.0 L895.5,243.7 L898.1,245.4 L900.7,247.2 L903.2,249.0 L905.7,250.8 L908.2,252.7 L910.7,254.6 L913.2,256.5 L915.6,258.4 L918.1,260.4 L920.5,262.3 L922.9,264.3 L925.2,266.4 L927.6,268.4 L929.9,270.5 L932.2,272.6 L934.5,274.8 L936.7,276.9 L939.0,279.1 L941.2,281.3 L943.4,283.5 L945.5,285.7 L947.7,288.0 L949.8,290.3 L951.9,292.6 L954.0,294.9 L956.0,297.2 L958.1,299.6 L960.1,302.0 L962.1,304.4 L964.0,306.8 L966.0,309.2 L967.9,311.7 L969.8,314.1 L971.7,316.6 L973.6,319.1 L975.4,321.6 L977.3,324.1 L979.1,326.7 L980.9,329.3 L982.6,331.8 L984.4,334.4 L986.1,337.0 L987.8,339.7 L989.5,342.3 L991.2,344.9 L992.9,347.6 L994.5,350.3 L996.2,353.0 L997.8,355.6 L999.4,358.4 L1000.9,361.1 L1002.5,363.8 L1004.0,366.5 L1005.6,369.3 L1007.1,372.1 L1008.6,374.8 L1010.0,377.6 L1011.5,380.4 L1013.0,383.2 L1014.4,386.0 L1015.8,388.8 L1017.2,391.6 L1018.6,394.5 L1020.0,397.3 L1021.3,400.2 L1022.7,403.0 L1024.0,405.9 L1025.3,408.7 L1026.6,411.6 L1027.9,414.5 L1029.2,417.3 L1030.5,420.2 L1031.7,423.1 L1033.0,426.0 L1034.2,428.9 L1035.4,431.8 L1036.6,434.7 L1037.8,437.6 L1039.0,440.5 L1040.2,443.4 L1041.3,446.3 L1042.5,449.2 L1043.6,452.1 L1044.8,455.0 L1045.9,458.0 L1047.0,460.9 L1048.1,463.8 L1049.2,466.7 L1050.2,469.7 L1051.3,472.6 L1052.4,475.5 L1053.4,478.5 L1054.5,481.4 L1055.5,484.3 L1056.5,487.3 L1057.5,490.2 L1058.5,493.2 L1059.5,496.1 L1060.5,499.1 L1061.5,502.0 L1062.5,505.0 L1063.5,508.0 L1064.4,510.9 L1065.4,513.9 L1066.3,516.8 L1067.3,519.8 L1068.2,522.8 L1069.1,525.7 L1070.1,528.7 L1071.0,531.7 L1071.9,534.7 L1072.8,537.6 L1073.7,540.6 L1074.6,543.6 L1075.5,546.6 L1076.4,549.6 L1077.2,552.5 L1078.1,555.5 L1079.0,558.5 L1079.8,561.5 L1080.7,564.5 L1081.6,567.5 L1082.4,570.5 L1083.3,573.5 L1084.1,576.5 L1085.0,579.5 L1085.8,582.5 L1086.7,585.5 L1087.5,588.5 L1088.3,591.5 L1089.2,594.5 L1090.0,597.5 L1090.8,600.5 L1091.6,603.5 L1092.5,606.5 L1093.3,609.6 L1094.1,612.6 L1094.9,615.6 L1095.8,618.6 L1096.6,621.6 L1097.4,624.6 L1098.2,627.7 L1099.0,630.7 L1099.9,633.7 L1100.7,636.7 L1101.5,639.7 L1102.3,642.8 L1103.1,645.8 L1104.0,648.8 L1104.8,651.8 L1105.6,654.9 L1106.4,657.9 L1107.2,660.9 L1108.1,663.9 L1108.9,667.0 L1109.7,670.0 L1110.5,673.0 L1111.3,676.1 L1112.1,679.1 L1113.0,682.1 L1113.8,685.2 L1114.6,688.2 L1115.4,691.2 L1116.3,694.3 L1117.1,697.3 L1117.9,700.3 L1118.7,703.4 L1119.5,706.4 L1120.4,709.4 L1121.2,712.5 L1122.0,715.5 L1122.8,718.5 L1123.7,721.5 L1124.5,724.6 L1125.3,727.6 L1126.1,730.6 L1127.0,733.7 L1127.8,736.7 L1128.6,739.7 L1129.4,742.8 L1130.3,745.8 L1131.1,748.8 L1131.9,751.8 L1132.7,754.9 L1133.6,757.9 L1134.4,760.9 L1135.2,763.9 L1136.1,767.0 L1136.9,770.0 L1137.7,773.0 L1138.6,776.0 L1139.4,779.0 L1140.3,782.1 L1141.1,785.1 L1141.9,788.1 L1142.8,791.1 L1143.6,794.1 L1144.4,797.1 L1145.3,800.1 L1146.1,803.1 L1147.0,806.1 L1147.8,809.2 L1148.7,812.2 L1149.5,815.2 L1150.4,818.2 L1151.2,821.2 L1152.1,824.2 L1152.9,827.1 L1153.8,830.1 L1154.6,833.1 L1155.5,836.1 L1156.3,839.1 L1157.2,842.1 L1158.1,845.1 L1158.9,848.1 L1159.8,851.0 L1160.6,854.0 L1161.5,857.0 L1162.4,860.0 L1163.2,862.9 L1164.1,865.9 L1165.0,868.9 L1165.8,871.8 L1166.7,874.8 L1167.6,877.8 L1168.5,880.7 L1169.3,883.7 L1170.2,886.6 L1171.1,889.6 L1172.0,892.5 L1172.9,895.5 L1173.7,898.5 L1174.6,901.4 L1175.5,904.4 L1176.4,907.3 L1177.3,910.3 L1178.2,913.2 L1179.1,916.2 L1180.0,919.2 L1180.9,922.1 L1181.8,925.1 L1182.6,928.1 L1183.5,931.1 L1184.4,934.0 L1185.3,937.0 L1186.2,940.0 L1187.1,943.0 L1188.0,946.0 L1188.9,949.0 L1189.8,952.0 L1190.7,955.1 L1191.6,958.1 L1192.5,961.1 L1193.5,964.2 L1194.4,967.2 L1195.3,970.3 L1196.2,973.3 L1197.1,976.4 L1198.0,979.5 L1198.9,982.6 L1199.8,985.7 L1200.7,988.8 L1201.6,991.9 L1202.6,995.0 L1203.5,998.1 L1204.5,1001.3 L1205.4,1004.4 L1206.4,1007.5 L1207.4,1010.6 L1208.4,1013.7 L1209.4,1016.7 L1210.5,1019.8 L1211.5,1022.9 L1212.6,1025.9 L1213.7,1028.9 L1214.9,1031.9 L1216.0,1034.9 L1217.2,1037.9 L1218.5,1040.8 L1219.7,1043.7 L1221.0,1046.6 L1222.3,1049.5 L1223.7,1052.3 L1225.1,1055.1 L1226.6,1057.9 L1228.1,1060.6 L1229.6,1063.3 L1231.2,1065.9 L1232.8,1068.5 L1234.4,1071.1 L1236.2,1073.6 L1237.9,1076.1 L1239.8,1078.5 L1241.6,1080.9 L1243.6,1083.3 L1245.5,1085.5 L1247.6,1087.8 L1249.6,1090.0 L1251.7,1092.1 L1253.9,1094.1 L1256.1,1096.2 L1258.4,1098.1 L1260.7,1100.0 L1263.0,1101.8 L1265.4,1103.6 L1267.8,1105.3 L1270.3,1107.0 L1272.8,1108.6 L1275.3,1110.1 L1277.9,1111.5 L1280.5,1112.9 L1283.2,1114.2 L1285.9,1115.4 L1288.6,1116.6 L1291.3,1117.7 L1294.1,1118.7 L1296.9,1119.7 L1299.8,1120.5 L1302.6,1121.3 L1305.5,1122.1 L1308.5,1122.7 L1311.4,1123.4 L1314.4,1123.9 L1317.4,1124.4 L1320.4,1124.9 L1323.5,1125.3 L1326.6,1125.6 L1329.6,1125.9 L1332.7,1126.2 L1335.9,1126.4 L1339.0,1126.6 L1342.2,1126.8 L1345.3,1126.9 L1348.5,1127.0 L1351.7,1127.1 L1354.9,1127.1 L1358.1,1127.2 L1361.3,1127.2 L1364.6,1127.2 L1367.8,1127.2 L1371.1,1127.2 L1374.3,1127.2 L1377.6,1127.2 L1380.8,1127.2 L1384.1,1127.2 L1387.3,1127.2 L1390.6,1127.2 L1393.8,1127.2 L1397.1,1127.2 L1400.3,1127.2 L1403.6,1127.2 L1406.8,1127.2 L1410.0,1127.3 L1413.3,1127.4 L1416.5,1127.6 L1419.7,1127.7 L1422.9,1127.9 L1426.1,1128.1 L1429.3,1128.3 L1432.5,1128.5 L1435.7,1128.8 L1438.9,1129.0 L1442.1,1129.3 L1445.2,1129.6 L1448.4,1130.0 L1451.5,1130.3 L1454.7,1130.7 L1457.8,1131.0 L1461.0,1131.4 L1464.1,1131.9 L1467.2,1132.3 L1470.4,1132.8 L1473.5,1133.2 L1476.6,1133.7 L1479.7,1134.3 L1482.8,1134.8 L1485.9,1135.4 L1489.0,1135.9 L1492.0,1136.5 L1495.1,1137.1 L1498.2,1137.8 L1501.2,1138.4 L1504.3,1139.1 L1507.3,1139.8 L1510.3,1140.5 L1513.4,1141.2 L1516.4,1142.0 L1519.4,1142.7 L1522.4,1143.5 L1525.4,1144.3 L1528.4,1145.2 L1531.4,1146.0 L1534.4,1146.9 L1537.4,1147.7 L1540.3,1148.6 L1543.3,1149.6 L1546.2,1150.5 L1549.2,1151.5 L1552.1,1152.4 L1555.0,1153.4 L1557.9,1154.4 L1560.8,1155.5 L1563.8,1156.5 L1566.6,1157.6 L1569.5,1158.7 L1572.4,1159.8 L1575.3,1160.9 L1578.1,1162.1 L1581.0,1163.2 L1583.8,1164.4 L1586.7,1165.6 L1589.5,1166.8 L1592.3,1168.1 L1595.1,1169.3 L1598.0,1170.6 L1600.7,1171.9 L1603.5,1173.2 L1606.3,1174.5 L1609.1,1175.9 L1611.8,1177.2 L1614.6,1178.6 L1617.3,1180.0 L1620.1,1181.5 L1622.8,1182.9 L1625.5,1184.4 L1628.2,1185.8 L1630.9,1187.3 L1633.6,1188.9 L1636.3,1190.4 L1639.0,1192.0 L1641.6,1193.5 L1644.3,1195.1 L1646.9,1196.7 L1649.6,1198.3 L1652.2,1200.0 L1654.8,1201.7 L1657.4,1203.3 L1660.0,1205.0 L1662.6,1206.8 L1665.2,1208.5 L1667.8,1210.2 L1670.3,1212.0 L1672.9,1213.8 L1675.4,1215.6 L1677.9,1217.4 L1680.5,1219.3 L1683.0,1221.2 L1685.5,1223.0 L1688.0,1224.9 L1690.4,1226.9 L1692.9,1228.8 L1695.4,1230.7 L1697.8,1232.7 L1700.2,1234.7 L1702.7,1236.7 L1705.1,1238.7 L1707.5,1240.8 L1709.9,1242.9 L1712.3,1244.9 L1714.6,1247.0 L1717.0,1249.1 L1719.4,1251.3 L1721.7,1253.4 L1724.1,1255.5 L1726.4,1257.7 L1728.8,1259.8 L1731.1,1262.0 L1733.4,1264.2 L1735.7,1266.3 L1738.1,1268.5 L1740.4,1270.7 L1742.7,1272.9 L1745.0,1275.0 L1747.4,1277.2 L1749.7,1279.4 L1752.0,1281.5 L1754.3,1283.7 L1756.7,1285.8 L1759.0,1288.0 L1761.3,1290.1 L1763.7,1292.2 L1766.0,1294.3 L1768.4,1296.4 L1770.8,1298.5 L1773.1,1300.5 L1775.5,1302.6 L1777.9,1304.6 L1780.3,1306.6 L1782.7,1308.5 L1785.1,1310.5 L1787.6,1312.4 L1790.0,1314.3 L1792.5,1316.2 L1795.0,1318.0 L1797.5,1319.8 L1800.0,1321.6 L1802.5,1323.4 L1805.0,1325.1 L1807.6,1326.8 L1810.2,1328.4 L1812.8,1330.0 L1815.4,1331.6 L1818.0,1333.1 L1820.7,1334.6 L1823.4,1336.0 L1826.1,1337.4 L1828.8,1338.8 L1831.6,1340.1 L1834.3,1341.4 L1837.1,1342.6 L1840.0,1343.7 L1842.8,1344.8 L1845.7,1345.9 L1848.6,1346.9 L1851.5,1347.8 L1854.5,1348.7 L1857.5,1349.6 L1860.5,1350.4 L1863.5,1351.1 L1866.5,1351.8 L1869.6,1352.4 L1872.7,1353.0 L1875.8,1353.5 L1878.9,1354.0 L1882.1,1354.4 L1885.2,1354.8 L1888.4,1355.1 L1891.6,1355.2 L1894.8,1355.2 L1898.0,1355.2 L1901.3,1355.2 L1904.5,1355.2 L1907.8,1355.2 L1911.1,1355.2 L1914.4,1355.2 L1917.7,1355.2 L1921.0,1355.2 L1924.3,1355.2 L1927.6,1355.2 L1931.0,1355.2" stroke="#ff0000" stroke-width="2.6"/>
<path d="M402.6,194.5a6.1,6.1 0 1,0 12.2,0a6.1,6.1 0 1,0 -12.2,0zM439.3,222.2a6.1,6.1 0 1,0 12.2,0a6.1,6.1 0 1,0 -12.2,0zM465.1,248.6a6.1,6.1 0 1,0 12.2,0a6.1,6.1 0 1,0 -12.2,0zM484.5,208.7a6.1,6.1 0 1,0 12.2,0a6.1,6.1 0 1,0 -12.2,0zM501.2,223.5a6.1,6.1 0 1,0 12.2,0a6.1,6.1 0 1,0 -12.2,0zM515.4,245.4a6.1,6.1 0 1,0 12.2,0a6.1,6.1 0 1,0 -12.2,0zM527.0,297.0a6.1,6.1 0 1,0 12.2,0a6.1,6.1 0 1,0 -12.2,0zM537.3,165.5a6.1,6.1 0 1,0 12.2,0a6.1,6.1 0 1,0 -12.2,0zM547.0,211.3a6.1,6.1 0 1,0 12.2,0a6.1,6.1 0 1,0 -12.2,0zM556.4,222.0a6.1,6.1 0 1,0 12.2,0a6.1,6.1 0 1,0 -12.2,0zM563.2,242.3a6.1,6.1 0 1,0 12.2,0a6.1,6.1 0 1,0 -12.2,0zM571.3,254.3a6.1,6.1 0 1,0 12.2,0a6.1,6.1 0 1,0 -12.2,0zM583.8,288.0a6.1,6.1 0 1,0 12.2,0a6.1,6.1 0 1,0 -12.2,0zM589.6,264.2a6.1,6.1 0 1,0 12.2,0a6.1,6.1 0 1,0 -12.2,0zM599.1,252.0a6.1,6.1 0 1,0 12.2,0a6.1,6.1 0 1,0 -12.2,0zM617.7,234.5a6.1,6.1 0 1,0 12.2,0a6.1,6.1 0 1,0 -12.2,0zM625.9,251.0a6.1,6.1 0 1,0 12.2,0a6.1,6.1 0 1,0 -12.2,0zM632.7,234.0a6.1,6.1 0 1,0 12.2,0a6.1,6.1 0 1,0 -12.2,0zM640.0,274.0a6.1,6.1 0 1,0 12.2,0a6.1,6.1 0 1,0 -12.2,0zM645.9,225.4a6.1,6.1 0 1,0 12.2,0a6.1,6.1 0 1,0 -12.2,0zM651.4,258.6a6.1,6.1 0 1,0 12.2,0a6.1,6.1 0 1,0 -12.2,0zM662.2,272.9a6.1,6.1 0 1,0 12.2,0a6.1,6.1 0 1,0 -12.2,0zM671.2,260.0a6.1,6.1 0 1,0 12.2,0a6.1,6.1 0 1,0 -12.2,0zM679.1,263.8a6.1,6.1 0 1,0 12.2,0a6.1,6.1 0 1,0 -12.2,0zM687.4,255.0a6.1,6.1 0 1,0 12.2,0a6.1,6.1 0 1,0 -12.2,0zM694.5,256.1a6.1,6.1 0 1,0 12.2,0a6.1,6.1 0 1,0 -12.2,0zM701.5,254.2a6.1,6.1 0 1,0 12.2,0a6.1,6.1 0 1,0 -12.2,0zM708.2,261.7a6.1,6.1 0 1,0 12.2,0a6.1,6.1 0 1,0 -12.2,0zM713.6,272.6a6.1,6.1 0 1,0 12.2,0a6.1,6.1 0 1,0 -12.2,0zM724.5,254.8a6.1,6.1 0 1,0 12.2,0a6.1,6.1 0 1,0 -12.2,0zM732.9,264.3a6.1,6.1 0 1,0 12.2,0a6.1,6.1 0 1,0 -12.2,0zM742.4,271.7a6.1,6.1 0 1,0 12.2,0a6.1,6.1 0 1,0 -12.2,0zM749.8,273.8a6.1,6.1 0 1,0 12.2,0a6.1,6.1 0 1,0 -12.2,0zM756.5,254.8a6.1,6.1 0 1,0 12.2,0a6.1,6.1 0 1,0 -12.2,0zM764.3,271.6a6.1,6.1 0 1,0 12.2,0a6.1,6.1 0 1,0 -12.2,0zM770.2,286.7a6.1,6.1 0 1,0 12.2,0a6.1,6.1 0 1,0 -12.2,0zM776.5,287.2a6.1,6.1 0 1,0 12.2,0a6.1,6.1 0 1,0 -12.2,0zM786.4,287.6a6.1,6.1 0 1,0 12.2,0a6.1,6.1 0 1,0 -12.2,0zM795.9,301.5a6.1,6.1 0 1,0 12.2,0a6.1,6.1 0 1,0 -12.2,0zM804.4,318.0a6.1,6.1 0 1,0 12.2,0a6.1,6.1 0 1,0 -12.2,0zM812.2,295.3a6.1,6.1 0 1,0 12.2,0a6.1,6.1 0 1,0 -12.2,0zM819.5,311.5a6.1,6.1 0 1,0 12.2,0a6.1,6.1 0 1,0 -12.2,0zM826.5,311.1a6.1,6.1 0 1,0 12.2,0a6.1,6.1 0 1,0 -12.2,0zM832.7,307.7a6.1,6.1 0 1,0 12.2,0a6.1,6.1 0 1,0 -12.2,0zM838.5,320.3a6.1,6.1 0 1,0 12.2,0a6.1,6.1 0 1,0 -12.2,0zM849.0,335.8a6.1,6.1 0 1,0 12.2,0a6.1,6.1 0 1,0 -12.2,0zM858.5,344.7a6.1,6.1 0 1,0 12.2,0a6.1,6.1 0 1,0 -12.2,0zM867.0,351.3a6.1,6.1 0 1,0 12.2,0a6.1,6.1 0 1,0 -12.2,0zM874.8,360.4a6.1,6.1 0 1,0 12.2,0a6.1,6.1 0 1,0 -12.2,0zM882.0,370.0a6.1,6.1 0 1,0 12.2,0a6.1,6.1 0 1,0 -12.2,0zM888.7,375.9a6.1,6.1 0 1,0 12.2,0a6.1,6.1 0 1,0 -12.2,0zM894.9,387.6a6.1,6.1 0 1,0 12.2,0a6.1,6.1 0 1,0 -12.2,0zM900.7,388.4a6.1,6.1 0 1,0 12.2,0a6.1,6.1 0 1,0 -12.2,0zM911.2,404.1a6.1,6.1 0 1,0 12.2,0a6.1,6.1 0 1,0 -12.2,0zM920.7,424.0a6.1,6.1 0 1,0 12.2,0a6.1,6.1 0 1,0 -12.2,0zM929.2,441.2a6.1,6.1 0 1,0 12.2,0a6.1,6.1 0 1,0 -12.2,0zM937.0,455.4a6.1,6.1 0 1,0 12.2,0a6.1,6.1 0 1,0 -12.2,0zM944.2,468.4a6.1,6.1 0 1,0 12.2,0a6.1,6.1 0 1,0 -12.2,0zM950.9,480.8a6.1,6.1 0 1,0 12.2,0a6.1,6.1 0 1,0 -12.2,0zM957.1,499.2a6.1,6.1 0 1,0 12.2,0a6.1,6.1 0 1,0 -12.2,0zM962.8,509.4a6.1,6.1 0 1,0 12.2,0a6.1,6.1 0 1,0 -12.2,0zM973.4,528.3a6.1,6.1 0 1,0 12.2,0a6.1,6.1 0 1,0 -12.2,0zM982.9,556.4a6.1,6.1 0 1,0 12.2,0a6.1,6.1 0 1,0 -12.2,0zM991.4,584.0a6.1,6.1 0 1,0 12.2,0a6.1,6.1 0 1,0 -12.2,0zM999.2,602.3a6.1,6.1 0 1,0 12.2,0a6.1,6.1 0 1,0 -12.2,0zM1006.4,633.5a6.1,6.1 0 1,0 12.2,0a6.1,6.1 0 1,0 -12.2,0zM1013.1,643.0a6.1,6.1 0 1,0 12.2,0a6.1,6.1 0 1,0 -12.2,0zM1019.3,659.9a6.1,6.1 0 1,0 12.2,0a6.1,6.1 0 1,0 -12.2,0zM1025.0,683.3a6.1,6.1 0 1,0 12.2,0a6.1,6.1 0 1,0 -12.2,0zM1035.6,717.1a6.1,6.1 0 1,0 12.2,0a6.1,6.1 0 1,0 -12.2,0zM1045.1,748.0a6.1,6.1 0 1,0 12.2,0a6.1,6.1 0 1,0 -12.2,0zM1053.6,780.8a6.1,6.1 0 1,0 12.2,0a6.1,6.1 0 1,0 -12.2,0zM1061.4,810.2a6.1,6.1 0 1,0 12.2,0a6.1,6.1 0 1,0 -12.2,0zM1068.6,837.6a6.1,6.1 0 1,0 12.2,0a6.1,6.1 0 1,0 -12.2,0zM1075.3,862.7a6.1,6.1 0 1,0 12.2,0a6.1,6.1 0 1,0 -12.2,0zM1081.4,881.7a6.1,6.1 0 1,0 12.2,0a6.1,6.1 0 1,0 -12.2,0zM1087.2,903.7a6.1,6.1 0 1,0 12.2,0a6.1,6.1 0 1,0 -12.2,0zM1097.8,942.4a6.1,6.1 0 1,0 12.2,0a6.1,6.1 0 1,0 -12.2,0zM1107.3,978.6a6.1,6.1 0 1,0 12.2,0a6.1,6.1 0 1,0 -12.2,0zM1115.8,1010.6a6.1,6.1 0 1,0 12.2,0a6.1,6.1 0 1,0 -12.2,0zM1123.6,1037.9a6.1,6.1 0 1,0 12.2,0a6.1,6.1 0 1,0 -12.2,0zM1130.8,1067.1a6.1,6.1 0 1,0 12.2,0a6.1,6.1 0 1,0 -12.2,0zM1137.4,1089.4a6.1,6.1 0 1,0 12.2,0a6.1,6.1 0 1,0 -12.2,0zM1143.6,1106.1a6.1,6.1 0 1,0 12.2,0a6.1,6.1 0 1,0 -12.2,0zM1149.4,1122.2a6.1,6.1 0 1,0 12.2,0a6.1,6.1 0 1,0 -12.2,0zM1160.0,1155.0a6.1,6.1 0 1,0 12.2,0a6.1,6.1 0 1,0 -12.2,0zM1169.4,1179.7a6.1,6.1 0 1,0 12.2,0a6.1,6.1 0 1,0 -12.2,0zM1178.0,1207.0a6.1,6.1 0 1,0 12.2,0a6.1,6.1 0 1,0 -12.2,0zM1185.8,1222.7a6.1,6.1 0 1,0 12.2,0a6.1,6.1 0 1,0 -12.2,0zM1193.0,1238.8a6.1,6.1 0 1,0 12.2,0a6.1,6.1 0 1,0 -12.2,0zM1199.6,1249.3a6.1,6.1 0 1,0 12.2,0a6.1,6.1 0 1,0 -12.2,0zM1205.8,1258.8a6.1,6.1 0 1,0 12.2,0a6.1,6.1 0 1,0 -12.2,0zM1211.6,1268.6a6.1,6.1 0 1,0 12.2,0a6.1,6.1 0 1,0 -12.2,0zM1222.2,1284.5a6.1,6.1 0 1,0 12.2,0a6.1,6.1 0 1,0 -12.2,0zM1231.6,1296.7a6.1,6.1 0 1,0 12.2,0a6.1,6.1 0 1,0 -12.2,0zM1240.2,1304.1a6.1,6.1 0 1,0 12.2,0a6.1,6.1 0 1,0 -12.2,0zM1248.0,1309.5a6.1,6.1 0 1,0 12.2,0a6.1,6.1 0 1,0 -12.2,0zM1255.2,1313.1a6.1,6.1 0 1,0 12.2,0a6.1,6.1 0 1,0 -12.2,0zM1261.8,1316.5a6.1,6.1 0 1,0 12.2,0a6.1,6.1 0 1,0 -12.2,0zM1268.0,1318.6a6.1,6.1 0 1,0 12.2,0a6.1,6.1 0 1,0 -12.2,0zM1273.8,1320.1a6.1,6.1 0 1,0 12.2,0a6.1,6.1 0 1,0 -12.2,0zM1284.4,1323.0a6.1,6.1 0 1,0 12.2,0a6.1,6.1 0 1,0 -12.2,0zM1293.8,1324.6a6.1,6.1 0 1,0 12.2,0a6.1,6.1 0 1,0 -12.2,0zM1302.4,1325.2a6.1,6.1 0 1,0 12.2,0a6.1,6.1 0 1,0 -12.2,0zM1310.2,1325.9a6.1,6.1 0 1,0 12.2,0a6.1,6.1 0 1,0 -12.2,0zM1317.4,1328.2a6.1,6.1 0 1,0 12.2,0a6.1,6.1 0 1,0 -12.2,0zM1324.0,1330.5a6.1,6.1 0 1,0 12.2,0a6.1,6.1 0 1,0 -12.2,0zM1330.2,1332.1a6.1,6.1 0 1,0 12.2,0a6.1,6.1 0 1,0 -12.2,0zM1336.0,1333.2a6.1,6.1 0 1,0 12.2,0a6.1,6.1 0 1,0 -12.2,0zM1346.6,1334.9a6.1,6.1 0 1,0 12.2,0a6.1,6.1 0 1,0 -12.2,0zM1356.0,1335.5a6.1,6.1 0 1,0 12.2,0a6.1,6.1 0 1,0 -12.2,0zM1364.6,1335.5a6.1,6.1 0 1,0 12.2,0a6.1,6.1 0 1,0 -12.2,0zM1372.4,1335.1a6.1,6.1 0 1,0 12.2,0a6.1,6.1 0 1,0 -12.2,0zM1379.6,1334.6a6.1,6.1 0 1,0 12.2,0a6.1,6.1 0 1,0 -12.2,0zM1386.2,1334.2a6.1,6.1 0 1,0 12.2,0a6.1,6.1 0 1,0 -12.2,0zM1392.4,1334.1a6.1,6.1 0 1,0 12.2,0a6.1,6.1 0 1,0 -12.2,0zM1398.2,1334.4a6.1,6.1 0 1,0 12.2,0a6.1,6.1 0 1,0 -12.2,0zM1408.8,1334.8a6.1,6.1 0 1,0 12.2,0a6.1,6.1 0 1,0 -12.2,0zM1418.2,1335.1a6.1,6.1 0 1,0 12.2,0a6.1,6.1 0 1,0 -12.2,0zM1426.8,1335.4a6.1,6.1 0 1,0 12.2,0a6.1,6.1 0 1,0 -12.2,0zM1434.6,1335.6a6.1,6.1 0 1,0 12.2,0a6.1,6.1 0 1,0 -12.2,0zM1441.8,1335.8a6.1,6.1 0 1,0 12.2,0a6.1,6.1 0 1,0 -12.2,0zM1448.4,1336.0a6.1,6.1 0 1,0 12.2,0a6.1,6.1 0 1,0 -12.2,0zM1454.6,1336.1a6.1,6.1 0 1,0 12.2,0a6.1,6.1 0 1,0 -12.2,0zM1460.4,1336.3a6.1,6.1 0 1,0 12.2,0a6.1,6.1 0 1,0 -12.2,0zM1471.0,1336.5a6.1,6.1 0 1,0 12.2,0a6.1,6.1 0 1,0 -12.2,0zM1480.4,1336.6a6.1,6.1 0 1,0 12.2,0a6.1,6.1 0 1,0 -12.2,0zM1489.0,1336.8a6.1,6.1 0 1,0 12.2,0a6.1,6.1 0 1,0 -12.2,0zM1496.8,1337.0a6.1,6.1 0 1,0 12.2,0a6.1,6.1 0 1,0 -12.2,0zM1504.0,1337.4a6.1,6.1 0 1,0 12.2,0a6.1,6.1 0 1,0 -12.2,0zM1510.6,1337.9a6.1,6.1 0 1,0 12.2,0a6.1,6.1 0 1,0 -12.2,0zM1516.8,1338.4a6.1,6.1 0 1,0 12.2,0a6.1,6.1 0 1,0 -12.2,0zM1522.6,1338.8a6.1,6.1 0 1,0 12.2,0a6.1,6.1 0 1,0 -12.2,0zM1533.2,1339.6a6.1,6.1 0 1,0 12.2,0a6.1,6.1 0 1,0 -12.2,0zM1542.6,1340.4a6.1,6.1 0 1,0 12.2,0a6.1,6.1 0 1,0 -12.2,0zM1551.2,1341.0a6.1,6.1 0 1,0 12.2,0a6.1,6.1 0 1,0 -12.2,0zM1559.0,1341.6a6.1,6.1 0 1,0 12.2,0a6.1,6.1 0 1,0 -12.2,0zM1566.1,1342.1a6.1,6.1 0 1,0 12.2,0a6.1,6.1 0 1,0 -12.2,0zM1572.8,1342.4a6.1,6.1 0 1,0 12.2,0a6.1,6.1 0 1,0 -12.2,0zM1579.0,1342.6a6.1,6.1 0 1,0 12.2,0a6.1,6.1 0 1,0 -12.2,0zM1584.8,1342.8a6.1,6.1 0 1,0 12.2,0a6.1,6.1 0 1,0 -12.2,0zM1595.3,1343.3a6.1,6.1 0 1,0 12.2,0a6.1,6.1 0 1,0 -12.2,0zM1604.8,1343.6a6.1,6.1 0 1,0 12.2,0a6.1,6.1 0 1,0 -12.2,0zM1613.3,1344.0a6.1,6.1 0 1,0 12.2,0a6.1,6.1 0 1,0 -12.2,0zM1621.2,1344.3a6.1,6.1 0 1,0 12.2,0a6.1,6.1 0 1,0 -12.2,0zM1628.3,1344.6a6.1,6.1 0 1,0 12.2,0a6.1,6.1 0 1,0 -12.2,0zM1635.0,1344.9a6.1,6.1 0 1,0 12.2,0a6.1,6.1 0 1,0 -12.2,0zM1641.2,1345.1a6.1,6.1 0 1,0 12.2,0a6.1,6.1 0 1,0 -12.2,0zM1647.0,1345.4a6.1,6.1 0 1,0 12.2,0a6.1,6.1 0 1,0 -12.2,0zM1657.5,1345.8a6.1,6.1 0 1,0 12.2,0a6.1,6.1 0 1,0 -12.2,0zM1667.0,1346.2a6.1,6.1 0 1,0 12.2,0a6.1,6.1 0 1,0 -12.2,0zM1675.5,1346.5a6.1,6.1 0 1,0 12.2,0a6.1,6.1 0 1,0 -12.2,0zM1683.3,1346.7a6.1,6.1 0 1,0 12.2,0a6.1,6.1 0 1,0 -12.2,0zM1690.5,1346.9a6.1,6.1 0 1,0 12.2,0a6.1,6.1 0 1,0 -12.2,0zM1697.2,1347.0a6.1,6.1 0 1,0 12.2,0a6.1,6.1 0 1,0 -12.2,0zM1703.4,1347.1a6.1,6.1 0 1,0 12.2,0a6.1,6.1 0 1,0 -12.2,0zM1709.2,1347.3a6.1,6.1 0 1,0 12.2,0a6.1,6.1 0 1,0 -12.2,0zM1719.7,1347.5a6.1,6.1 0 1,0 12.2,0a6.1,6.1 0 1,0 -12.2,0zM1729.2,1347.7a6.1,6.1 0 1,0 12.2,0a6.1,6.1 0 1,0 -12.2,0zM1737.7,1347.9a6.1,6.1 0 1,0 12.2,0a6.1,6.1 0 1,0 -12.2,0zM1745.5,1348.0a6.1,6.1 0 1,0 12.2,0a6.1,6.1 0 1,0 -12.2,0zM1752.7,1348.1a6.1,6.1 0 1,0 12.2,0a6.1,6.1 0 1,0 -12.2,0zM1759.4,1348.2a6.1,6.1 0 1,0 12.2,0a6.1,6.1 0 1,0 -12.2,0zM1765.6,1348.3a6.1,6.1 0 1,0 12.2,0a6.1,6.1 0 1,0 -12.2,0zM1771.4,1348.4a6.1,6.1 0 1,0 12.2,0a6.1,6.1 0 1,0 -12.2,0zM1781.9,1348.6a6.1,6.1 0 1,0 12.2,0a6.1,6.1 0 1,0 -12.2,0zM1791.4,1348.7a6.1,6.1 0 1,0 12.2,0a6.1,6.1 0 1,0 -12.2,0zM1799.9,1348.8a6.1,6.1 0 1,0 12.2,0a6.1,6.1 0 1,0 -12.2,0zM1807.7,1349.0a6.1,6.1 0 1,0 12.2,0a6.1,6.1 0 1,0 -12.2,0zM1814.9,1349.1a6.1,6.1 0 1,0 12.2,0a6.1,6.1 0 1,0 -12.2,0zM1821.6,1349.2a6.1,6.1 0 1,0 12.2,0a6.1,6.1 0 1,0 -12.2,0zM1827.8,1349.3a6.1,6.1 0 1,0 12.2,0a6.1,6.1 0 1,0 -12.2,0zM1833.5,1349.3a6.1,6.1 0 1,0 12.2,0a6.1,6.1 0 1,0 -12.2,0zM1844.1,1349.5a6.1,6.1 0 1,0 12.2,0a6.1,6.1 0 1,0 -12.2,0zM1853.6,1349.6a6.1,6.1 0 1,0 12.2,0a6.1,6.1 0 1,0 -12.2,0zM1862.1,1349.6a6.1,6.1 0 1,0 12.2,0a6.1,6.1 0 1,0 -12.2,0zM1869.9,1349.7a6.1,6.1 0 1,0 12.2,0a6.1,6.1 0 1,0 -12.2,0zM1877.1,1349.7a6.1,6.1 0 1,0 12.2,0a6.1,6.1 0 1,0 -12.2,0zM1883.8,1349.8a6.1,6.1 0 1,0 12.2,0a6.1,6.1 0 1,0 -12.2,0zM1889.9,1349.8a6.1,6.1 0 1,0 12.2,0a6.1,6.1 0 1,0 -12.2,0zM1895.7,1349.9a6.1,6.1 0 1,0 12.2,0a6.1,6.1 0 1,0 -12.2,0zM1906.3,1350.0a6.1,6.1 0 1,0 12.2,0a6.1,6.1 0 1,0 -12.2,0zM1915.8,1350.0a6.1,6.1 0 1,0 12.2,0a6.1,6.1 0 1,0 -12.2,0zM1924.3,1350.1a6.1,6.1 0 1,0 12.2,0a6.1,6.1 0 1,0 -12.2,0zM1932.1,1350.2a6.1,6.1 0 1,0 12.2,0a6.1,6.1 0 1,0 -12.2,0zM1939.3,1350.2a6.1,6.1 0 1,0 12.2,0a6.1,6.1 0 1,0 -12.2,0zM1946.0,1350.3a6.1,6.1 0 1,0 12.2,0a6.1,6.1 0 1,0 -12.2,0zM1952.1,1350.3a6.1,6.1 0 1,0 12.2,0a6.1,6.1 0 1,0 -12.2,0zM1957.9,1350.3a6.1,6.1 0 1,0 12.2,0a6.1,6.1 0 1,0 -12.2,0zM1968.5,1350.4a6.1,6.1 0 1,0 12.2,0a6.1,6.1 0 1,0 -12.2,0zM1978.0,1350.5a6.1,6.1 0 1,0 12.2,0a6.1,6.1 0 1,0 -12.2,0z" stroke="#ff0000" stroke-width="2.9"/>
<path d="M403.0,199.1h11.4v11.4h-11.4zM439.7,279.7h11.4v11.4h-11.4zM465.5,295.8h11.4v11.4h-11.4zM484.9,279.1h11.4v11.4h-11.4zM501.6,261.6h11.4v11.4h-11.4zM515.2,284.2h11.4v11.4h-11.4zM527.4,279.1h11.4v11.4h-11.4zM538.4,272.6h11.4v11.4h-11.4zM548.1,281.0h11.4v11.4h-11.4zM556.6,301.3h11.4v11.4h-11.4zM563.6,249.3h11.4v11.4h-11.4zM571.3,284.9h11.4v11.4h-11.4zM577.7,317.7h11.4v11.4h-11.4zM583.8,325.7h11.4v11.4h-11.4zM589.9,272.7h11.4v11.4h-11.4zM599.4,294.9h11.4v11.4h-11.4zM608.8,295.1h11.4v11.4h-11.4zM618.1,305.9h11.4v11.4h-11.4zM625.5,263.0h11.4v11.4h-11.4zM633.1,288.1h11.4v11.4h-11.4zM640.4,260.9h11.4v11.4h-11.4zM646.9,272.8h11.4v11.4h-11.4zM651.8,306.0h11.4v11.4h-11.4zM662.4,287.0h11.4v11.4h-11.4zM672.1,279.8h11.4v11.4h-11.4zM680.0,309.8h11.4v11.4h-11.4zM687.8,350.9h11.4v11.4h-11.4zM695.3,263.3h11.4v11.4h-11.4zM702.3,310.3h11.4v11.4h-11.4zM708.0,328.9h11.4v11.4h-11.4zM714.8,324.8h11.4v11.4h-11.4zM724.8,337.5h11.4v11.4h-11.4zM734.3,319.8h11.4v11.4h-11.4zM742.9,318.7h11.4v11.4h-11.4zM750.7,319.8h11.4v11.4h-11.4zM757.9,321.9h11.4v11.4h-11.4zM764.5,348.3h11.4v11.4h-11.4zM770.7,346.1h11.4v11.4h-11.4zM776.5,341.9h11.4v11.4h-11.4zM787.0,344.0h11.4v11.4h-11.4zM796.5,358.8h11.4v11.4h-11.4zM805.0,372.5h11.4v11.4h-11.4zM812.8,355.6h11.4v11.4h-11.4zM820.0,377.8h11.4v11.4h-11.4zM826.6,395.7h11.4v11.4h-11.4zM832.8,378.8h11.4v11.4h-11.4zM838.6,392.6h11.4v11.4h-11.4zM849.1,387.3h11.4v11.4h-11.4zM858.6,408.4h11.4v11.4h-11.4zM867.1,422.1h11.4v11.4h-11.4zM875.2,428.7h11.4v11.4h-11.4zM882.4,439.0h11.4v11.4h-11.4zM889.1,451.3h11.4v11.4h-11.4zM895.3,455.2h11.4v11.4h-11.4zM901.1,459.8h11.4v11.4h-11.4zM911.6,484.8h11.4v11.4h-11.4zM921.1,496.7h11.4v11.4h-11.4zM929.6,507.7h11.4v11.4h-11.4zM937.4,521.9h11.4v11.4h-11.4zM944.6,545.2h11.4v11.4h-11.4zM951.3,556.2h11.4v11.4h-11.4zM957.5,571.9h11.4v11.4h-11.4zM963.2,585.0h11.4v11.4h-11.4zM973.8,614.8h11.4v11.4h-11.4zM983.3,640.4h11.4v11.4h-11.4zM991.8,663.7h11.4v11.4h-11.4zM999.6,690.3h11.4v11.4h-11.4zM1006.8,710.7h11.4v11.4h-11.4zM1013.5,731.2h11.4v11.4h-11.4zM1019.7,748.6h11.4v11.4h-11.4zM1025.4,769.8h11.4v11.4h-11.4zM1036.0,805.9h11.4v11.4h-11.4zM1045.5,837.4h11.4v11.4h-11.4zM1054.0,873.9h11.4v11.4h-11.4zM1061.8,898.0h11.4v11.4h-11.4zM1069.0,926.4h11.4v11.4h-11.4zM1075.7,947.5h11.4v11.4h-11.4zM1081.8,970.9h11.4v11.4h-11.4zM1087.6,993.6h11.4v11.4h-11.4zM1098.2,1025.2h11.4v11.4h-11.4zM1107.7,1059.7h11.4v11.4h-11.4zM1116.2,1089.0h11.4v11.4h-11.4zM1124.0,1113.2h11.4v11.4h-11.4zM1131.2,1132.2h11.4v11.4h-11.4zM1137.8,1153.2h11.4v11.4h-11.4zM1144.0,1170.0h11.4v11.4h-11.4zM1149.8,1184.8h11.4v11.4h-11.4zM1160.4,1210.0h11.4v11.4h-11.4zM1169.8,1231.8h11.4v11.4h-11.4zM1178.4,1248.6h11.4v11.4h-11.4zM1186.2,1263.9h11.4v11.4h-11.4zM1193.4,1272.8h11.4v11.4h-11.4zM1200.0,1280.5h11.4v11.4h-11.4zM1206.2,1289.3h11.4v11.4h-11.4zM1212.0,1298.4h11.4v11.4h-11.4zM1222.6,1310.7h11.4v11.4h-11.4zM1232.0,1319.0h11.4v11.4h-11.4zM1240.6,1323.2h11.4v11.4h-11.4zM1248.4,1325.8h11.4v11.4h-11.4zM1255.6,1327.8h11.4v11.4h-11.4zM1262.2,1329.5h11.4v11.4h-11.4zM1268.4,1330.5h11.4v11.4h-11.4zM1274.2,1331.8h11.4v11.4h-11.4zM1284.8,1334.3h11.4v11.4h-11.4zM1294.2,1335.2h11.4v11.4h-11.4zM1302.8,1335.4h11.4v11.4h-11.4zM1310.6,1334.5h11.4v11.4h-11.4zM1317.8,1335.0h11.4v11.4h-11.4zM1324.4,1335.5h11.4v11.4h-11.4zM1330.6,1335.8h11.4v11.4h-11.4zM1336.4,1336.2h11.4v11.4h-11.4zM1347.0,1336.6h11.4v11.4h-11.4zM1356.4,1337.0h11.4v11.4h-11.4zM1365.0,1336.7h11.4v11.4h-11.4zM1372.8,1336.4h11.4v11.4h-11.4zM1380.0,1336.1h11.4v11.4h-11.4zM1386.6,1335.9h11.4v11.4h-11.4zM1392.8,1336.0h11.4v11.4h-11.4zM1398.6,1336.4h11.4v11.4h-11.4zM1409.2,1337.0h11.4v11.4h-11.4zM1418.6,1337.4h11.4v11.4h-11.4zM1427.2,1337.6h11.4v11.4h-11.4zM1435.0,1337.8h11.4v11.4h-11.4zM1442.2,1338.0h11.4v11.4h-11.4zM1448.8,1338.2h11.4v11.4h-11.4zM1455.0,1338.3h11.4v11.4h-11.4zM1460.8,1338.5h11.4v11.4h-11.4zM1471.4,1338.9h11.4v11.4h-11.4zM1480.8,1339.3h11.4v11.4h-11.4zM1489.4,1339.6h11.4v11.4h-11.4zM1497.2,1339.9h11.4v11.4h-11.4zM1504.4,1340.0h11.4v11.4h-11.4zM1511.0,1340.1h11.4v11.4h-11.4zM1517.2,1340.2h11.4v11.4h-11.4zM1523.0,1340.3h11.4v11.4h-11.4zM1533.6,1340.5h11.4v11.4h-11.4zM1543.0,1340.7h11.4v11.4h-11.4zM1551.6,1340.9h11.4v11.4h-11.4zM1559.4,1341.0h11.4v11.4h-11.4zM1566.5,1341.1h11.4v11.4h-11.4zM1573.2,1341.3h11.4v11.4h-11.4zM1579.4,1341.4h11.4v11.4h-11.4zM1585.2,1341.5h11.4v11.4h-11.4zM1595.7,1341.6h11.4v11.4h-11.4zM1605.2,1341.8h11.4v11.4h-11.4zM1613.7,1341.9h11.4v11.4h-11.4zM1621.6,1342.1h11.4v11.4h-11.4zM1628.7,1342.2h11.4v11.4h-11.4zM1635.4,1342.3h11.4v11.4h-11.4zM1641.6,1342.4h11.4v11.4h-11.4zM1647.4,1342.5h11.4v11.4h-11.4zM1657.9,1342.7h11.4v11.4h-11.4zM1667.4,1342.9h11.4v11.4h-11.4zM1675.9,1343.1h11.4v11.4h-11.4zM1683.7,1343.2h11.4v11.4h-11.4zM1690.9,1343.4h11.4v11.4h-11.4zM1697.6,1343.5h11.4v11.4h-11.4zM1703.8,1343.6h11.4v11.4h-11.4zM1709.6,1343.7h11.4v11.4h-11.4zM1720.1,1343.8h11.4v11.4h-11.4zM1729.6,1343.9h11.4v11.4h-11.4zM1738.1,1344.0h11.4v11.4h-11.4zM1745.9,1344.0h11.4v11.4h-11.4zM1753.1,1344.1h11.4v11.4h-11.4zM1759.8,1344.1h11.4v11.4h-11.4zM1766.0,1344.2h11.4v11.4h-11.4zM1771.8,1344.2h11.4v11.4h-11.4zM1782.3,1344.3h11.4v11.4h-11.4zM1791.8,1344.4h11.4v11.4h-11.4zM1800.3,1344.5h11.4v11.4h-11.4zM1808.1,1344.5h11.4v11.4h-11.4zM1815.3,1344.6h11.4v11.4h-11.4zM1822.0,1344.6h11.4v11.4h-11.4zM1828.2,1344.7h11.4v11.4h-11.4zM1833.9,1344.7h11.4v11.4h-11.4zM1844.5,1344.8h11.4v11.4h-11.4zM1854.0,1344.8h11.4v11.4h-11.4zM1862.5,1344.9h11.4v11.4h-11.4zM1870.3,1344.9h11.4v11.4h-11.4zM1877.5,1344.9h11.4v11.4h-11.4zM1884.2,1344.9h11.4v11.4h-11.4zM1890.3,1345.0h11.4v11.4h-11.4zM1896.1,1345.0h11.4v11.4h-11.4zM1906.7,1345.0h11.4v11.4h-11.4zM1916.2,1345.1h11.4v11.4h-11.4zM1924.7,1345.1h11.4v11.4h-11.4zM1932.5,1345.1h11.4v11.4h-11.4zM1939.7,1345.2h11.4v11.4h-11.4zM1946.4,1345.2h11.4v11.4h-11.4zM1952.5,1345.2h11.4v11.4h-11.4zM1958.3,1345.2h11.4v11.4h-11.4zM1968.9,1345.3h11.4v11.4h-11.4zM1978.4,1345.3h11.4v11.4h-11.4z" stroke="#0000ff" stroke-width="2.8"/>
<path d="M471.2,203.0l4.94,8.55h-9.87zM533.1,202.3l4.94,8.55h-9.87zM544.1,192.7l4.94,8.55h-9.87zM569.6,225.7l4.94,8.55h-9.87zM577.0,205.1l4.94,8.55h-9.87zM583.4,224.9l4.94,8.55h-9.87zM589.2,178.5l4.94,8.55h-9.87zM595.3,207.3l4.94,8.55h-9.87zM605.6,198.6l4.94,8.55h-9.87zM615.4,204.3l4.94,8.55h-9.87zM623.8,243.7l4.94,8.55h-9.87zM631.4,185.5l4.94,8.55h-9.87zM638.8,202.9l4.94,8.55h-9.87zM652.0,188.9l4.94,8.55h-9.87zM657.5,201.6l4.94,8.55h-9.87zM667.8,190.0l4.94,8.55h-9.87zM677.4,227.1l4.94,8.55h-9.87zM686.5,212.0l4.94,8.55h-9.87zM694.1,205.6l4.94,8.55h-9.87zM700.7,187.9l4.94,8.55h-9.87zM708.0,216.3l4.94,8.55h-9.87zM713.7,197.3l4.94,8.55h-9.87zM720.0,209.8l4.94,8.55h-9.87zM730.2,216.2l4.94,8.55h-9.87zM739.3,230.4l4.94,8.55h-9.87zM748.3,211.7l4.94,8.55h-9.87zM756.0,230.4l4.94,8.55h-9.87zM763.8,226.5l4.94,8.55h-9.87zM768.8,253.4l4.94,8.55h-9.87zM776.4,224.1l4.94,8.55h-9.87zM781.6,237.0l4.94,8.55h-9.87zM791.7,237.3l4.94,8.55h-9.87zM802.2,246.2l4.94,8.55h-9.87zM810.9,253.9l4.94,8.55h-9.87zM818.6,256.3l4.94,8.55h-9.87zM825.6,263.6l4.94,8.55h-9.87zM832.6,266.5l4.94,8.55h-9.87zM838.8,280.8l4.94,8.55h-9.87zM844.6,285.0l4.94,8.55h-9.87zM855.1,294.4l4.94,8.55h-9.87zM864.6,317.3l4.94,8.55h-9.87zM873.1,310.1l4.94,8.55h-9.87zM880.9,327.0l4.94,8.55h-9.87zM888.1,338.4l4.94,8.55h-9.87zM894.8,341.3l4.94,8.55h-9.87zM901.0,352.3l4.94,8.55h-9.87zM906.8,365.5l4.94,8.55h-9.87zM917.3,391.9l4.94,8.55h-9.87zM926.8,407.5l4.94,8.55h-9.87zM935.3,432.8l4.94,8.55h-9.87zM943.1,446.6l4.94,8.55h-9.87zM950.3,460.5l4.94,8.55h-9.87zM957.0,475.5l4.94,8.55h-9.87zM963.2,502.4l4.94,8.55h-9.87zM968.9,512.8l4.94,8.55h-9.87zM979.5,541.6l4.94,8.55h-9.87zM989.0,570.5l4.94,8.55h-9.87zM997.5,597.2l4.94,8.55h-9.87zM1005.3,612.8l4.94,8.55h-9.87zM1012.5,644.0l4.94,8.55h-9.87zM1019.2,658.5l4.94,8.55h-9.87zM1025.4,687.5l4.94,8.55h-9.87zM1031.1,709.3l4.94,8.55h-9.87zM1041.7,744.4l4.94,8.55h-9.87zM1051.2,777.4l4.94,8.55h-9.87zM1059.7,803.4l4.94,8.55h-9.87zM1067.5,830.9l4.94,8.55h-9.87zM1074.7,859.5l4.94,8.55h-9.87zM1081.4,882.4l4.94,8.55h-9.87zM1087.5,901.6l4.94,8.55h-9.87zM1093.3,926.3l4.94,8.55h-9.87zM1103.9,965.9l4.94,8.55h-9.87zM1113.4,998.6l4.94,8.55h-9.87zM1121.9,1025.7l4.94,8.55h-9.87zM1129.7,1048.6l4.94,8.55h-9.87zM1136.9,1074.6l4.94,8.55h-9.87zM1143.5,1093.2l4.94,8.55h-9.87zM1149.7,1108.9l4.94,8.55h-9.87zM1155.5,1117.3l4.94,8.55h-9.87zM1166.1,1145.7l4.94,8.55h-9.87zM1175.5,1170.0l4.94,8.55h-9.87zM1184.1,1187.7l4.94,8.55h-9.87zM1191.9,1198.6l4.94,8.55h-9.87zM1199.1,1211.5l4.94,8.55h-9.87zM1205.7,1219.2l4.94,8.55h-9.87zM1211.9,1226.3l4.94,8.55h-9.87zM1217.7,1232.8l4.94,8.55h-9.87zM1228.3,1242.7l4.94,8.55h-9.87zM1237.7,1251.1l4.94,8.55h-9.87zM1246.3,1255.1l4.94,8.55h-9.87zM1254.1,1258.4l4.94,8.55h-9.87zM1261.3,1261.2l4.94,8.55h-9.87zM1267.9,1263.7l4.94,8.55h-9.87zM1274.1,1266.0l4.94,8.55h-9.87zM1279.9,1267.4l4.94,8.55h-9.87zM1290.5,1270.6l4.94,8.55h-9.87zM1299.9,1273.0l4.94,8.55h-9.87zM1308.5,1275.2l4.94,8.55h-9.87zM1316.3,1276.7l4.94,8.55h-9.87zM1323.5,1277.6l4.94,8.55h-9.87zM1330.1,1278.4l4.94,8.55h-9.87zM1336.3,1279.2l4.94,8.55h-9.87zM1342.1,1279.8l4.94,8.55h-9.87zM1352.7,1281.2l4.94,8.55h-9.87zM1362.1,1283.4l4.94,8.55h-9.87zM1370.7,1284.2l4.94,8.55h-9.87zM1378.5,1284.7l4.94,8.55h-9.87zM1385.7,1285.0l4.94,8.55h-9.87zM1392.3,1285.7l4.94,8.55h-9.87zM1398.5,1286.5l4.94,8.55h-9.87zM1404.3,1287.3l4.94,8.55h-9.87zM1414.9,1288.6l4.94,8.55h-9.87zM1424.3,1289.9l4.94,8.55h-9.87zM1432.9,1291.0l4.94,8.55h-9.87zM1440.7,1292.1l4.94,8.55h-9.87zM1447.9,1293.1l4.94,8.55h-9.87zM1454.5,1294.0l4.94,8.55h-9.87zM1460.7,1294.8l4.94,8.55h-9.87zM1466.5,1295.6l4.94,8.55h-9.87zM1477.1,1297.0l4.94,8.55h-9.87zM1486.5,1298.3l4.94,8.55h-9.87zM1495.1,1299.4l4.94,8.55h-9.87zM1502.9,1300.5l4.94,8.55h-9.87zM1510.1,1301.2l4.94,8.55h-9.87zM1516.7,1301.9l4.94,8.55h-9.87zM1522.9,1302.5l4.94,8.55h-9.87zM1528.7,1303.1l4.94,8.55h-9.87zM1539.3,1304.1l4.94,8.55h-9.87zM1548.7,1305.1l4.94,8.55h-9.87zM1557.3,1305.9l4.94,8.55h-9.87zM1565.1,1306.7l4.94,8.55h-9.87zM1572.2,1307.5l4.94,8.55h-9.87zM1578.9,1308.2l4.94,8.55h-9.87zM1585.1,1309.3l4.94,8.55h-9.87zM1590.9,1310.4l4.94,8.55h-9.87zM1601.4,1312.4l4.94,8.55h-9.87zM1610.9,1314.2l4.94,8.55h-9.87zM1619.4,1315.8l4.94,8.55h-9.87zM1627.3,1317.3l4.94,8.55h-9.87zM1634.4,1318.3l4.94,8.55h-9.87zM1641.1,1319.3l4.94,8.55h-9.87zM1647.3,1320.2l4.94,8.55h-9.87zM1653.1,1321.0l4.94,8.55h-9.87zM1663.6,1322.5l4.94,8.55h-9.87zM1673.1,1323.3l4.94,8.55h-9.87zM1681.6,1323.8l4.94,8.55h-9.87zM1689.4,1324.3l4.94,8.55h-9.87zM1696.6,1324.8l4.94,8.55h-9.87zM1703.3,1325.2l4.94,8.55h-9.87zM1709.5,1326.0l4.94,8.55h-9.87zM1715.3,1326.7l4.94,8.55h-9.87zM1725.8,1327.9l4.94,8.55h-9.87zM1735.3,1329.3l4.94,8.55h-9.87zM1743.8,1331.1l4.94,8.55h-9.87zM1751.6,1332.7l4.94,8.55h-9.87zM1758.8,1334.3l4.94,8.55h-9.87zM1765.5,1335.7l4.94,8.55h-9.87zM1771.7,1337.1l4.94,8.55h-9.87zM1777.5,1338.3l4.94,8.55h-9.87zM1788.0,1340.4l4.94,8.55h-9.87zM1797.5,1343.6l4.94,8.55h-9.87zM1806.0,1347.1l4.94,8.55h-9.87zM1849.5,1347.9l4.94,8.55h-9.87zM1859.4,1347.9l4.94,8.55h-9.87zM1868.3,1347.9l4.94,8.55h-9.87zM1876.0,1347.9l4.94,8.55h-9.87zM1974.9,1347.9l4.94,8.55h-9.87z" stroke="#ffb266" stroke-width="3.0" stroke-linejoin="miter"/>
<path d="M409.2,164.8l4.2,5.5l-4.2,5.5l-4.2,-5.5zM445.6,164.7l4.2,5.5l-4.2,5.5l-4.2,-5.5zM471.4,164.7l4.2,5.5l-4.2,5.5l-4.2,-5.5zM491.4,164.7l4.2,5.5l-4.2,5.5l-4.2,-5.5zM507.8,164.8l4.2,5.5l-4.2,5.5l-4.2,-5.5zM521.6,166.7l4.2,5.5l-4.2,5.5l-4.2,-5.5zM533.6,163.3l4.2,5.5l-4.2,5.5l-4.2,-5.5zM544.2,164.4l4.2,5.5l-4.2,5.5l-4.2,-5.5zM553.6,166.8l4.2,5.5l-4.2,5.5l-4.2,-5.5zM562.2,166.3l4.2,5.5l-4.2,5.5l-4.2,-5.5zM570.0,167.5l4.2,5.5l-4.2,5.5l-4.2,-5.5zM577.2,167.5l4.2,5.5l-4.2,5.5l-4.2,-5.5zM583.8,168.1l4.2,5.5l-4.2,5.5l-4.2,-5.5zM590.0,168.7l4.2,5.5l-4.2,5.5l-4.2,-5.5zM595.8,169.0l4.2,5.5l-4.2,5.5l-4.2,-5.5zM606.4,166.8l4.2,5.5l-4.2,5.5l-4.2,-5.5zM615.8,170.3l4.2,5.5l-4.2,5.5l-4.2,-5.5zM624.4,166.2l4.2,5.5l-4.2,5.5l-4.2,-5.5zM632.2,170.5l4.2,5.5l-4.2,5.5l-4.2,-5.5zM639.4,171.3l4.2,5.5l-4.2,5.5l-4.2,-5.5zM646.0,171.9l4.2,5.5l-4.2,5.5l-4.2,-5.5zM652.2,172.6l4.2,5.5l-4.2,5.5l-4.2,-5.5zM658.0,173.1l4.2,5.5l-4.2,5.5l-4.2,-5.5zM668.6,174.2l4.2,5.5l-4.2,5.5l-4.2,-5.5zM678.0,175.2l4.2,5.5l-4.2,5.5l-4.2,-5.5zM686.6,176.0l4.2,5.5l-4.2,5.5l-4.2,-5.5zM694.4,176.8l4.2,5.5l-4.2,5.5l-4.2,-5.5zM701.5,177.5l4.2,5.5l-4.2,5.5l-4.2,-5.5zM708.2,178.7l4.2,5.5l-4.2,5.5l-4.2,-5.5zM714.4,180.0l4.2,5.5l-4.2,5.5l-4.2,-5.5zM720.2,181.1l4.2,5.5l-4.2,5.5l-4.2,-5.5zM730.7,183.3l4.2,5.5l-4.2,5.5l-4.2,-5.5zM740.2,185.6l4.2,5.5l-4.2,5.5l-4.2,-5.5zM748.8,187.6l4.2,5.5l-4.2,5.5l-4.2,-5.5zM756.6,190.0l4.2,5.5l-4.2,5.5l-4.2,-5.5zM763.7,193.6l4.2,5.5l-4.2,5.5l-4.2,-5.5zM770.4,195.8l4.2,5.5l-4.2,5.5l-4.2,-5.5zM776.6,197.1l4.2,5.5l-4.2,5.5l-4.2,-5.5zM782.4,199.1l4.2,5.5l-4.2,5.5l-4.2,-5.5zM792.9,204.0l4.2,5.5l-4.2,5.5l-4.2,-5.5zM802.4,206.8l4.2,5.5l-4.2,5.5l-4.2,-5.5zM810.9,210.8l4.2,5.5l-4.2,5.5l-4.2,-5.5zM818.8,214.5l4.2,5.5l-4.2,5.5l-4.2,-5.5zM825.9,219.2l4.2,5.5l-4.2,5.5l-4.2,-5.5zM832.6,223.4l4.2,5.5l-4.2,5.5l-4.2,-5.5zM838.8,226.5l4.2,5.5l-4.2,5.5l-4.2,-5.5zM844.6,229.7l4.2,5.5l-4.2,5.5l-4.2,-5.5zM855.1,237.2l4.2,5.5l-4.2,5.5l-4.2,-5.5zM864.6,243.7l4.2,5.5l-4.2,5.5l-4.2,-5.5zM873.1,250.6l4.2,5.5l-4.2,5.5l-4.2,-5.5zM880.9,257.6l4.2,5.5l-4.2,5.5l-4.2,-5.5zM888.1,264.1l4.2,5.5l-4.2,5.5l-4.2,-5.5zM894.8,270.4l4.2,5.5l-4.2,5.5l-4.2,-5.5zM901.0,278.0l4.2,5.5l-4.2,5.5l-4.2,-5.5zM906.8,285.0l4.2,5.5l-4.2,5.5l-4.2,-5.5zM917.3,296.7l4.2,5.5l-4.2,5.5l-4.2,-5.5zM926.8,307.4l4.2,5.5l-4.2,5.5l-4.2,-5.5zM935.3,318.6l4.2,5.5l-4.2,5.5l-4.2,-5.5zM943.1,330.2l4.2,5.5l-4.2,5.5l-4.2,-5.5zM950.3,339.4l4.2,5.5l-4.2,5.5l-4.2,-5.5zM957.0,350.0l4.2,5.5l-4.2,5.5l-4.2,-5.5zM963.2,359.4l4.2,5.5l-4.2,5.5l-4.2,-5.5zM968.9,370.8l4.2,5.5l-4.2,5.5l-4.2,-5.5zM979.5,389.5l4.2,5.5l-4.2,5.5l-4.2,-5.5zM989.0,407.2l4.2,5.5l-4.2,5.5l-4.2,-5.5zM997.5,423.3l4.2,5.5l-4.2,5.5l-4.2,-5.5zM1005.3,438.4l4.2,5.5l-4.2,5.5l-4.2,-5.5zM1012.5,453.8l4.2,5.5l-4.2,5.5l-4.2,-5.5zM1019.2,467.5l4.2,5.5l-4.2,5.5l-4.2,-5.5zM1025.4,480.5l4.2,5.5l-4.2,5.5l-4.2,-5.5zM1031.1,495.5l4.2,5.5l-4.2,5.5l-4.2,-5.5zM1041.7,518.3l4.2,5.5l-4.2,5.5l-4.2,-5.5zM1051.2,540.4l4.2,5.5l-4.2,5.5l-4.2,-5.5zM1059.7,560.1l4.2,5.5l-4.2,5.5l-4.2,-5.5zM1067.5,578.8l4.2,5.5l-4.2,5.5l-4.2,-5.5zM1074.7,597.1l4.2,5.5l-4.2,5.5l-4.2,-5.5zM1081.4,613.0l4.2,5.5l-4.2,5.5l-4.2,-5.5zM1087.5,629.3l4.2,5.5l-4.2,5.5l-4.2,-5.5zM1093.3,643.6l4.2,5.5l-4.2,5.5l-4.2,-5.5zM1103.9,670.6l4.2,5.5l-4.2,5.5l-4.2,-5.5zM1113.4,693.9l4.2,5.5l-4.2,5.5l-4.2,-5.5zM1121.9,714.7l4.2,5.5l-4.2,5.5l-4.2,-5.5zM1129.7,734.1l4.2,5.5l-4.2,5.5l-4.2,-5.5zM1136.9,752.3l4.2,5.5l-4.2,5.5l-4.2,-5.5zM1143.5,768.9l4.2,5.5l-4.2,5.5l-4.2,-5.5zM1149.7,783.6l4.2,5.5l-4.2,5.5l-4.2,-5.5zM1155.5,815.6l4.2,5.5l-4.2,5.5l-4.2,-5.5zM1166.1,839.2l4.2,5.5l-4.2,5.5l-4.2,-5.5zM1175.5,861.2l4.2,5.5l-4.2,5.5l-4.2,-5.5zM1184.1,878.8l4.2,5.5l-4.2,5.5l-4.2,-5.5zM1191.9,896.1l4.2,5.5l-4.2,5.5l-4.2,-5.5zM1199.1,910.5l4.2,5.5l-4.2,5.5l-4.2,-5.5zM1205.7,924.6l4.2,5.5l-4.2,5.5l-4.2,-5.5zM1211.9,937.3l4.2,5.5l-4.2,5.5l-4.2,-5.5zM1217.7,925.4l4.2,5.5l-4.2,5.5l-4.2,-5.5zM1228.3,947.0l4.2,5.5l-4.2,5.5l-4.2,-5.5zM1237.7,966.2l4.2,5.5l-4.2,5.5l-4.2,-5.5zM1246.3,980.9l4.2,5.5l-4.2,5.5l-4.2,-5.5zM1254.1,992.9l4.2,5.5l-4.2,5.5l-4.2,-5.5zM1261.3,1003.6l4.2,5.5l-4.2,5.5l-4.2,-5.5zM1267.9,1012.8l4.2,5.5l-4.2,5.5l-4.2,-5.5zM1274.1,1021.5l4.2,5.5l-4.2,5.5l-4.2,-5.5zM1279.9,1030.3l4.2,5.5l-4.2,5.5l-4.2,-5.5zM1290.5,1043.9l4.2,5.5l-4.2,5.5l-4.2,-5.5zM1299.9,1054.0l4.2,5.5l-4.2,5.5l-4.2,-5.5zM1308.5,1063.5l4.2,5.5l-4.2,5.5l-4.2,-5.5zM1316.3,1072.3l4.2,5.5l-4.2,5.5l-4.2,-5.5zM1323.5,1081.3l4.2,5.5l-4.2,5.5l-4.2,-5.5zM1330.1,1089.5l4.2,5.5l-4.2,5.5l-4.2,-5.5zM1336.3,1096.6l4.2,5.5l-4.2,5.5l-4.2,-5.5zM1342.1,1102.9l4.2,5.5l-4.2,5.5l-4.2,-5.5zM1352.7,1112.8l4.2,5.5l-4.2,5.5l-4.2,-5.5zM1362.1,1121.1l4.2,5.5l-4.2,5.5l-4.2,-5.5zM1370.7,1128.3l4.2,5.5l-4.2,5.5l-4.2,-5.5zM1378.5,1134.5l4.2,5.5l-4.2,5.5l-4.2,-5.5zM1385.7,1142.5l4.2,5.5l-4.2,5.5l-4.2,-5.5zM1392.3,1145.2l4.2,5.5l-4.2,5.5l-4.2,-5.5zM1398.5,1146.7l4.2,5.5l-4.2,5.5l-4.2,-5.5zM1404.3,1148.2l4.2,5.5l-4.2,5.5l-4.2,-5.5zM1414.9,1151.9l4.2,5.5l-4.2,5.5l-4.2,-5.5zM1424.3,1156.2l4.2,5.5l-4.2,5.5l-4.2,-5.5zM1432.9,1160.9l4.2,5.5l-4.2,5.5l-4.2,-5.5zM1440.7,1164.4l4.2,5.5l-4.2,5.5l-4.2,-5.5zM1447.9,1167.9l4.2,5.5l-4.2,5.5l-4.2,-5.5zM1454.5,1170.2l4.2,5.5l-4.2,5.5l-4.2,-5.5zM1460.7,1171.2l4.2,5.5l-4.2,5.5l-4.2,-5.5zM1466.5,1172.8l4.2,5.5l-4.2,5.5l-4.2,-5.5zM1477.1,1176.8l4.2,5.5l-4.2,5.5l-4.2,-5.5zM1486.5,1179.7l4.2,5.5l-4.2,5.5l-4.2,-5.5zM1495.1,1182.8l4.2,5.5l-4.2,5.5l-4.2,-5.5zM1502.9,1185.1l4.2,5.5l-4.2,5.5l-4.2,-5.5zM1510.1,1187.3l4.2,5.5l-4.2,5.5l-4.2,-5.5zM1516.7,1189.0l4.2,5.5l-4.2,5.5l-4.2,-5.5zM1522.9,1191.7l4.2,5.5l-4.2,5.5l-4.2,-5.5zM1528.7,1195.2l4.2,5.5l-4.2,5.5l-4.2,-5.5zM1539.3,1196.6l4.2,5.5l-4.2,5.5l-4.2,-5.5zM1548.7,1198.9l4.2,5.5l-4.2,5.5l-4.2,-5.5zM1557.3,1204.2l4.2,5.5l-4.2,5.5l-4.2,-5.5zM1565.1,1205.9l4.2,5.5l-4.2,5.5l-4.2,-5.5zM1572.2,1209.4l4.2,5.5l-4.2,5.5l-4.2,-5.5zM1578.9,1211.7l4.2,5.5l-4.2,5.5l-4.2,-5.5zM1585.1,1211.4l4.2,5.5l-4.2,5.5l-4.2,-5.5zM1590.9,1211.9l4.2,5.5l-4.2,5.5l-4.2,-5.5zM1601.4,1212.8l4.2,5.5l-4.2,5.5l-4.2,-5.5zM1610.9,1214.9l4.2,5.5l-4.2,5.5l-4.2,-5.5zM1619.4,1210.7l4.2,5.5l-4.2,5.5l-4.2,-5.5zM1627.3,1213.5l4.2,5.5l-4.2,5.5l-4.2,-5.5zM1634.4,1215.2l4.2,5.5l-4.2,5.5l-4.2,-5.5zM1641.1,1221.6l4.2,5.5l-4.2,5.5l-4.2,-5.5zM1647.3,1224.8l4.2,5.5l-4.2,5.5l-4.2,-5.5zM1653.1,1227.0l4.2,5.5l-4.2,5.5l-4.2,-5.5zM1663.6,1227.0l4.2,5.5l-4.2,5.5l-4.2,-5.5zM1673.1,1226.1l4.2,5.5l-4.2,5.5l-4.2,-5.5zM1681.6,1231.7l4.2,5.5l-4.2,5.5l-4.2,-5.5zM1689.4,1235.0l4.2,5.5l-4.2,5.5l-4.2,-5.5zM1696.6,1238.4l4.2,5.5l-4.2,5.5l-4.2,-5.5zM1703.3,1243.3l4.2,5.5l-4.2,5.5l-4.2,-5.5zM1709.5,1242.4l4.2,5.5l-4.2,5.5l-4.2,-5.5zM1715.3,1245.2l4.2,5.5l-4.2,5.5l-4.2,-5.5zM1725.8,1248.7l4.2,5.5l-4.2,5.5l-4.2,-5.5zM1735.3,1244.7l4.2,5.5l-4.2,5.5l-4.2,-5.5zM1743.8,1248.6l4.2,5.5l-4.2,5.5l-4.2,-5.5zM1751.6,1253.7l4.2,5.5l-4.2,5.5l-4.2,-5.5zM1758.8,1252.3l4.2,5.5l-4.2,5.5l-4.2,-5.5zM1765.5,1253.7l4.2,5.5l-4.2,5.5l-4.2,-5.5zM1771.7,1253.8l4.2,5.5l-4.2,5.5l-4.2,-5.5zM1777.5,1257.0l4.2,5.5l-4.2,5.5l-4.2,-5.5zM1788.0,1265.6l4.2,5.5l-4.2,5.5l-4.2,-5.5zM1797.5,1268.0l4.2,5.5l-4.2,5.5l-4.2,-5.5zM1806.0,1267.3l4.2,5.5l-4.2,5.5l-4.2,-5.5zM1813.8,1268.1l4.2,5.5l-4.2,5.5l-4.2,-5.5zM1821.0,1268.9l4.2,5.5l-4.2,5.5l-4.2,-5.5zM1827.7,1272.0l4.2,5.5l-4.2,5.5l-4.2,-5.5zM1833.9,1273.9l4.2,5.5l-4.2,5.5l-4.2,-5.5zM1839.6,1278.8l4.2,5.5l-4.2,5.5l-4.2,-5.5zM1850.2,1287.5l4.2,5.5l-4.2,5.5l-4.2,-5.5zM1859.7,1288.5l4.2,5.5l-4.2,5.5l-4.2,-5.5zM1868.2,1294.5l4.2,5.5l-4.2,5.5l-4.2,-5.5zM1876.0,1300.0l4.2,5.5l-4.2,5.5l-4.2,-5.5zM1883.2,1300.5l4.2,5.5l-4.2,5.5l-4.2,-5.5zM1889.9,1308.7l4.2,5.5l-4.2,5.5l-4.2,-5.5zM1896.0,1314.9l4.2,5.5l-4.2,5.5l-4.2,-5.5zM1901.8,1330.8l4.2,5.5l-4.2,5.5l-4.2,-5.5zM1912.4,1348.0l4.2,5.5l-4.2,5.5l-4.2,-5.5z" stroke="#800080" stroke-width="3.5"/>
</g>
<rect x="327.0" y="47.6" width="1653.2" height="1426.2" fill="none" stroke="#1a1a1a" stroke-width="3.3"/>
<text x="240.4" y="1571.5" font-size="85" font-family='"Liberation Serif", serif' textLength="40.3" lengthAdjust="spacingAndGlyphs">1</text><text x="284.6" y="1571.5" font-size="85" font-family='"Liberation Serif", serif' textLength="37.5" lengthAdjust="spacingAndGlyphs">0</text><text x="327.0" y="1539.2" font-size="40" font-family='"Liberation Serif", serif' textLength="45.1" lengthAdjust="spacingAndGlyphs">−</text><text x="376.5" y="1541.3" font-size="60" font-family='"Liberation Serif", serif' textLength="31.1" lengthAdjust="spacingAndGlyphs">4</text><text x="447.0" y="1571.5" font-size="85" font-family='"Liberation Serif", serif' textLength="40.3" lengthAdjust="spacingAndGlyphs">1</text><text x="491.2" y="1571.5" font-size="85" font-family='"Liberation Serif", serif' textLength="37.5" lengthAdjust="spacingAndGlyphs">0</text><text x="533.6" y="1539.2" font-size="40" font-family='"Liberation Serif", serif' textLength="45.1" lengthAdjust="spacingAndGlyphs">−</text><text x="580.9" y="1541.3" font-size="60" font-family='"Liberation Serif", serif' textLength="34.4" lengthAdjust="spacingAndGlyphs">3</text><text x="653.6" y="1571.5" font-size="85" font-family='"Liberation Serif", serif' textLength="40.3" lengthAdjust="spacingAndGlyphs">1</text><text x="697.8" y="1571.5" font-size="85" font-family='"Liberation Serif", serif' textLength="37.5" lengthAdjust="spacingAndGlyphs">0</text><text x="740.2" y="1539.2" font-size="40" font-family='"Liberation Serif", serif' textLength="45.1" lengthAdjust="spacingAndGlyphs">−</text><text x="787.5" y="1541.3" font-size="60" font-family='"Liberation Serif", serif' textLength="35.2" lengthAdjust="spacingAndGlyphs">2</text><text x="860.2" y="1571.5" font-size="85" font-family='"Liberation Serif", serif' textLength="40.3" lengthAdjust="spacingAndGlyphs">1</text><text x="904.3" y="1571.5" font-size="85" font-family='"Liberation Serif", serif' textLength="37.5" lengthAdjust="spacingAndGlyphs">0</text><text x="946.8" y="1539.2" font-size="40" font-family='"Liberation Serif", serif' textLength="45.1" lengthAdjust="spacingAndGlyphs">−</text><text x="991.0" y="1541.3" font-size="60" font-family='"Liberation Serif", serif' textLength="36.7" lengthAdjust="spacingAndGlyphs">1</text><text x="1093.4" y="1571.5" font-size="85" font-family='"Liberation Serif", serif' textLength="40.3" lengthAdjust="spacingAndGlyphs">1</text><text x="1137.6" y="1571.5" font-size="85" font-family='"Liberation Serif", serif' textLength="37.5" lengthAdjust="spacingAndGlyphs">0</text><text x="1178.0" y="1541.3" font-size="60" font-family='"Liberation Serif", serif'>0</text><text x="1300.0" y="1571.5" font-size="85" font-family='"Liberation Serif", serif' textLength="40.3" lengthAdjust="spacingAndGlyphs">1</text><text x="1344.2" y="1571.5" font-size="85" font-family='"Liberation Serif", serif' textLength="37.5" lengthAdjust="spacingAndGlyphs">0</text><text x="1381.1" y="1541.3" font-size="60" font-family='"Liberation Serif", serif' textLength="33.1" lengthAdjust="spacingAndGlyphs">1</text><text x="1506.6" y="1571.5" font-size="85" font-family='"Liberation Serif", serif' textLength="40.3" lengthAdjust="spacingAndGlyphs">1</text><text x="1550.8" y="1571.5" font-size="85" font-family='"Liberation Serif", serif' textLength="37.5" lengthAdjust="spacingAndGlyphs">0</text><text x="1590.4" y="1541.3" font-size="60" font-family='"Liberation Serif", serif' textLength="32.7" lengthAdjust="spacingAndGlyphs">2</text><text x="1713.2" y="1571.5" font-size="85" font-family='"Liberation Serif", serif' textLength="40.3" lengthAdjust="spacingAndGlyphs">1</text><text x="1757.4" y="1571.5" font-size="85" font-family='"Liberation Serif", serif' textLength="37.5" lengthAdjust="spacingAndGlyphs">0</text><text x="1797.1" y="1541.3" font-size="60" font-family='"Liberation Serif", serif' textLength="30.7" lengthAdjust="spacingAndGlyphs">3</text><text x="1919.8" y="1571.5" font-size="85" font-family='"Liberation Serif", serif' textLength="40.3" lengthAdjust="spacingAndGlyphs">1</text><text x="1964.0" y="1571.5" font-size="85" font-family='"Liberation Serif", serif' textLength="37.5" lengthAdjust="spacingAndGlyphs">0</text><text x="2005.6" y="1541.3" font-size="60" font-family='"Liberation Serif", serif' textLength="28.2" lengthAdjust="spacingAndGlyphs">4</text><text x="297.4" y="1382.5" font-size="85" text-anchor="end" font-family='"Liberation Serif", serif'>0</text><text x="297.4" y="1148.0" font-size="85" text-anchor="end" font-family='"Liberation Serif", serif'>0.2</text><text x="297.4" y="913.6" font-size="85" text-anchor="end" font-family='"Liberation Serif", serif'>0.4</text><text x="297.4" y="679.1" font-size="85" text-anchor="end" font-family='"Liberation Serif", serif'>0.6</text><text x="297.4" y="444.7" font-size="85" text-anchor="end" font-family='"Liberation Serif", serif'>0.8</text><text x="297.4" y="210.2" font-size="85" text-anchor="end" font-family='"Liberation Serif", serif'>1</text><text x="1049.1" y="1664.0" font-size="81" font-style="italic" font-family='"Liberation Serif", serif' textLength="38.3" lengthAdjust="spacingAndGlyphs">τ</text><text x="1098.7" y="1664.0" font-size="81" font-family='"Liberation Serif", serif' textLength="18.0" lengthAdjust="spacingAndGlyphs">,</text><text x="1143.9" y="1664.0" font-size="81" font-style="italic" font-family='"Liberation Serif", serif' textLength="75.6" lengthAdjust="spacingAndGlyphs">m</text><text x="1221.7" y="1664.0" font-size="81" font-style="italic" font-family='"Liberation Serif", serif' textLength="34.5" lengthAdjust="spacingAndGlyphs">s</text><g transform="rotate(-90)"><text x="-927.5" y="113.5" font-size="82" font-style="italic" font-family='"Liberation Serif", serif' textLength="41.8" lengthAdjust="spacingAndGlyphs">g</text><text x="-883.2" y="83.4" font-size="56" font-family='"Liberation Serif", serif' textLength="31.3" lengthAdjust="spacingAndGlyphs">2</text><text x="-842.7" y="113.5" font-size="90" font-family='"Liberation Serif", serif' textLength="26.5" lengthAdjust="spacingAndGlyphs">(</text><text x="-814.9" y="113.5" font-size="82" font-style="italic" font-family='"Liberation Serif", serif' textLength="37.7" lengthAdjust="spacingAndGlyphs">τ</text><text x="-767.2" y="113.5" font-size="90" font-family='"Liberation Serif", serif' textLength="25.7" lengthAdjust="spacingAndGlyphs">)</text><text x="-715.6" y="111.3" font-size="56" font-family='"Liberation Serif", serif' textLength="58.9" lengthAdjust="spacingAndGlyphs">−</text><text x="-633.8" y="113.5" font-size="82" font-family='"Liberation Serif", serif' textLength="37.1" lengthAdjust="spacingAndGlyphs">1</text></g><text x="1519.7" y="187.0" font-size="43" font-family='"Liberation Serif", serif' textLength="144.6" lengthAdjust="spacingAndGlyphs">0.04%</text><text x="1686.5" y="187.0" font-size="43" font-family='"Liberation Serif", serif' textLength="53.7" lengthAdjust="spacingAndGlyphs">25</text><text x="1746.4" y="169.5" font-size="40" font-style="italic" font-family='"Liberation Serif", serif' textLength="22.4" lengthAdjust="spacingAndGlyphs">o</text><text x="1777.6" y="187.0" font-size="44" font-family='"Liberation Serif", serif' textLength="36.5" lengthAdjust="spacingAndGlyphs">C</text><text x="1519.7" y="267.3" font-size="43" font-family='"Liberation Serif", serif' textLength="144.6" lengthAdjust="spacingAndGlyphs">0.04%</text><text x="1686.5" y="267.3" font-size="43" font-family='"Liberation Serif", serif' textLength="53.7" lengthAdjust="spacingAndGlyphs">30</text><text x="1746.4" y="249.8" font-size="40" font-style="italic" font-family='"Liberation Serif", serif' textLength="22.4" lengthAdjust="spacingAndGlyphs">o</text><text x="1777.6" y="267.3" font-size="44" font-family='"Liberation Serif", serif' textLength="36.5" lengthAdjust="spacingAndGlyphs">C</text><text x="1519.7" y="347.3" font-size="43" font-family='"Liberation Serif", serif' textLength="144.6" lengthAdjust="spacingAndGlyphs">0.04%</text><text x="1686.5" y="347.3" font-size="43" font-family='"Liberation Serif", serif' textLength="53.7" lengthAdjust="spacingAndGlyphs">40</text><text x="1746.4" y="329.8" font-size="40" font-style="italic" font-family='"Liberation Serif", serif' textLength="22.4" lengthAdjust="spacingAndGlyphs">o</text><text x="1777.6" y="347.3" font-size="44" font-family='"Liberation Serif", serif' textLength="36.5" lengthAdjust="spacingAndGlyphs">C</text><text x="1519.7" y="427.6" font-size="43" font-family='"Liberation Serif", serif' textLength="144.6" lengthAdjust="spacingAndGlyphs">0.14%</text><text x="1686.5" y="427.6" font-size="43" font-family='"Liberation Serif", serif' textLength="53.7" lengthAdjust="spacingAndGlyphs">40</text><text x="1746.4" y="410.1" font-size="40" font-style="italic" font-family='"Liberation Serif", serif' textLength="22.4" lengthAdjust="spacingAndGlyphs">o</text><text x="1777.6" y="427.6" font-size="44" font-family='"Liberation Serif", serif' textLength="36.5" lengthAdjust="spacingAndGlyphs">C</text><text x="1509.0" y="501.5" font-size="43" font-family='"Liberation Serif", serif' textLength="147.3" lengthAdjust="spacingAndGlyphs">KWW</text><text x="1680.7" y="501.5" font-size="43" font-family='"Liberation Serif", serif' textLength="142.7" lengthAdjust="spacingAndGlyphs">model</text>
<path d="M1411.6,175.5a6.1,6.1 0 1,0 12.2,0a6.1,6.1 0 1,0 -12.2,0z" stroke="#ff0000" stroke-width="2.9" fill="none"/>
<path d="M1412.0,249.6h11.4v11.4h-11.4z" stroke="#0000ff" stroke-width="2.8" fill="none"/>
<path d="M1417.7,329.1l4.94,8.55h-9.87z" stroke="#ffb266" stroke-width="3.0" fill="none"/>
<path d="M1417.7,410.8l4.2,5.5l-4.2,5.5l-4.2,-5.5z" stroke="#800080" stroke-width="3.5" fill="none"/>
<path d="M1346.8,492.8H1488.5" stroke="#ff0000" stroke-width="2.6"/>
</svg></body></html>
